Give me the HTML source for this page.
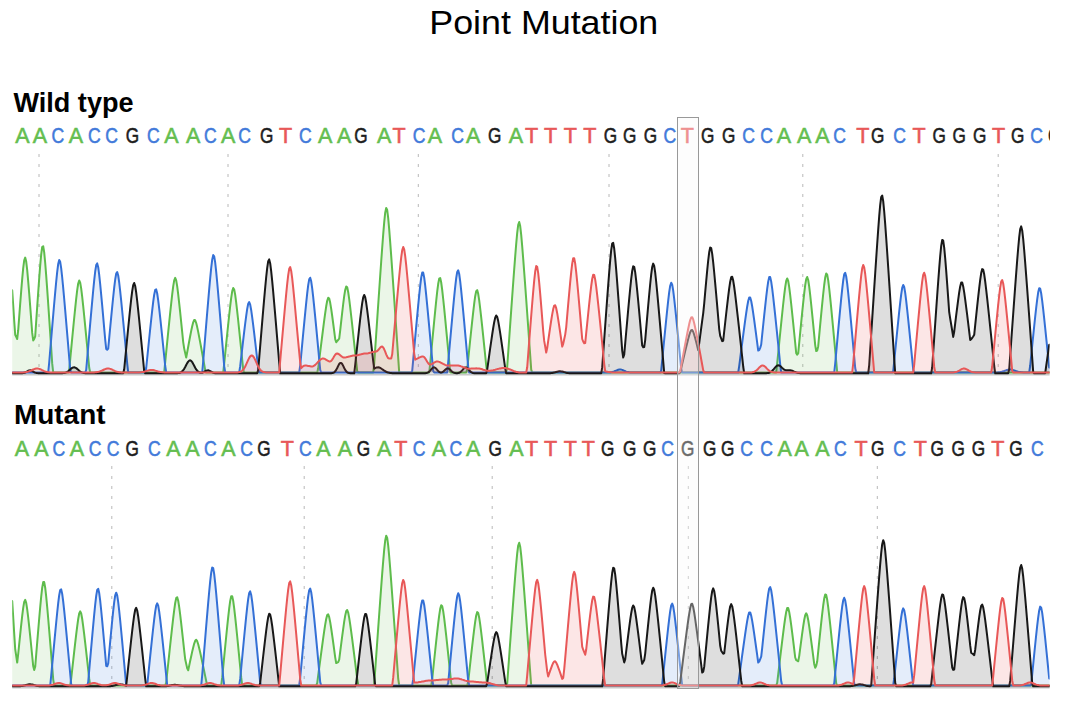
<!DOCTYPE html>
<html><head><meta charset="utf-8"><style>
html,body{margin:0;padding:0;background:#fff;}
body{width:1065px;height:701px;overflow:hidden;position:relative;font-family:"Liberation Sans",sans-serif;}
svg{position:absolute;left:0;top:0;}
</style></head><body>
<svg width="1065" height="701" viewBox="0 0 1065 701">
<text x="543.8" y="34.2" font-size="33.5" text-anchor="middle" textLength="229" lengthAdjust="spacingAndGlyphs" fill="#000" font-family="Liberation Sans">Point Mutation</text>
<text x="13.5" y="111.9" font-size="27" font-weight="bold" textLength="120" lengthAdjust="spacingAndGlyphs" fill="#000" font-family="Liberation Sans">Wild type</text>
<text x="14" y="423.6" font-size="27" font-weight="bold" textLength="91.5" lengthAdjust="spacingAndGlyphs" fill="#000" font-family="Liberation Sans">Mutant</text>
<g font-size="21.5" stroke-width="0.55" text-anchor="middle" font-family="Liberation Sans" clip-path="url(#cl2)">
<text x="22.3" y="142.8" fill="rgb(100,190,80)" stroke="rgb(100,190,80)">A</text>
<text x="40.0" y="142.8" fill="rgb(100,190,80)" stroke="rgb(100,190,80)">A</text>
<text transform="translate(57.8 142.8) scale(0.82 1)" fill="rgb(66,122,218)" stroke="rgb(66,122,218)">C</text>
<text x="76.0" y="142.8" fill="rgb(100,190,80)" stroke="rgb(100,190,80)">A</text>
<text transform="translate(94.3 142.8) scale(0.82 1)" fill="rgb(66,122,218)" stroke="rgb(66,122,218)">C</text>
<text transform="translate(111.6 142.8) scale(0.82 1)" fill="rgb(66,122,218)" stroke="rgb(66,122,218)">C</text>
<text transform="translate(132.4 142.8) scale(0.80 1)" fill="rgb(30,30,30)" stroke="rgb(30,30,30)">G</text>
<text transform="translate(153.4 142.8) scale(0.82 1)" fill="rgb(66,122,218)" stroke="rgb(66,122,218)">C</text>
<text x="171.4" y="142.8" fill="rgb(100,190,80)" stroke="rgb(100,190,80)">A</text>
<text x="193.2" y="142.8" fill="rgb(100,190,80)" stroke="rgb(100,190,80)">A</text>
<text transform="translate(210.4 142.8) scale(0.82 1)" fill="rgb(66,122,218)" stroke="rgb(66,122,218)">C</text>
<text x="228.2" y="142.8" fill="rgb(100,190,80)" stroke="rgb(100,190,80)">A</text>
<text transform="translate(244.7 142.8) scale(0.82 1)" fill="rgb(66,122,218)" stroke="rgb(66,122,218)">C</text>
<text transform="translate(266.6 142.8) scale(0.80 1)" fill="rgb(30,30,30)" stroke="rgb(30,30,30)">G</text>
<text x="285.5" y="142.8" fill="rgb(232,88,88)" stroke="rgb(232,88,88)">T</text>
<text transform="translate(305.3 142.8) scale(0.82 1)" fill="rgb(66,122,218)" stroke="rgb(66,122,218)">C</text>
<text x="325.2" y="142.8" fill="rgb(100,190,80)" stroke="rgb(100,190,80)">A</text>
<text x="344.1" y="142.8" fill="rgb(100,190,80)" stroke="rgb(100,190,80)">A</text>
<text transform="translate(360.9 142.8) scale(0.80 1)" fill="rgb(30,30,30)" stroke="rgb(30,30,30)">G</text>
<text x="384.1" y="142.8" fill="rgb(100,190,80)" stroke="rgb(100,190,80)">A</text>
<text x="399.1" y="142.8" fill="rgb(232,88,88)" stroke="rgb(232,88,88)">T</text>
<text transform="translate(419.0 142.8) scale(0.82 1)" fill="rgb(66,122,218)" stroke="rgb(66,122,218)">C</text>
<text x="435.0" y="142.8" fill="rgb(100,190,80)" stroke="rgb(100,190,80)">A</text>
<text transform="translate(457.7 142.8) scale(0.82 1)" fill="rgb(66,122,218)" stroke="rgb(66,122,218)">C</text>
<text x="473.2" y="142.8" fill="rgb(100,190,80)" stroke="rgb(100,190,80)">A</text>
<text transform="translate(494.6 142.8) scale(0.80 1)" fill="rgb(30,30,30)" stroke="rgb(30,30,30)">G</text>
<text x="515.8" y="142.8" fill="rgb(100,190,80)" stroke="rgb(100,190,80)">A</text>
<text x="531.6" y="142.8" fill="rgb(232,88,88)" stroke="rgb(232,88,88)">T</text>
<text x="550.5" y="142.8" fill="rgb(232,88,88)" stroke="rgb(232,88,88)">T</text>
<text x="570.3" y="142.8" fill="rgb(232,88,88)" stroke="rgb(232,88,88)">T</text>
<text x="589.7" y="142.8" fill="rgb(232,88,88)" stroke="rgb(232,88,88)">T</text>
<text transform="translate(610.4 142.8) scale(0.80 1)" fill="rgb(30,30,30)" stroke="rgb(30,30,30)">G</text>
<text transform="translate(629.7 142.8) scale(0.80 1)" fill="rgb(30,30,30)" stroke="rgb(30,30,30)">G</text>
<text transform="translate(650.4 142.8) scale(0.80 1)" fill="rgb(30,30,30)" stroke="rgb(30,30,30)">G</text>
<text transform="translate(669.8 142.8) scale(0.82 1)" fill="rgb(66,122,218)" stroke="rgb(66,122,218)">C</text>
<text x="687.3" y="142.8" fill="rgb(232,88,88)" stroke="rgb(232,88,88)">T</text>
<text transform="translate(707.7 142.8) scale(0.80 1)" fill="rgb(30,30,30)" stroke="rgb(30,30,30)">G</text>
<text transform="translate(728.6 142.8) scale(0.80 1)" fill="rgb(30,30,30)" stroke="rgb(30,30,30)">G</text>
<text transform="translate(748.5 142.8) scale(0.82 1)" fill="rgb(66,122,218)" stroke="rgb(66,122,218)">C</text>
<text transform="translate(766.6 142.8) scale(0.82 1)" fill="rgb(66,122,218)" stroke="rgb(66,122,218)">C</text>
<text x="783.9" y="142.8" fill="rgb(100,190,80)" stroke="rgb(100,190,80)">A</text>
<text x="804.2" y="142.8" fill="rgb(100,190,80)" stroke="rgb(100,190,80)">A</text>
<text x="822.3" y="142.8" fill="rgb(100,190,80)" stroke="rgb(100,190,80)">A</text>
<text transform="translate(839.6 142.8) scale(0.82 1)" fill="rgb(66,122,218)" stroke="rgb(66,122,218)">C</text>
<text x="862.8" y="142.8" fill="rgb(232,88,88)" stroke="rgb(232,88,88)">T</text>
<text transform="translate(877.8 142.8) scale(0.80 1)" fill="rgb(30,30,30)" stroke="rgb(30,30,30)">G</text>
<text transform="translate(899.7 142.8) scale(0.82 1)" fill="rgb(66,122,218)" stroke="rgb(66,122,218)">C</text>
<text x="919.1" y="142.8" fill="rgb(232,88,88)" stroke="rgb(232,88,88)">T</text>
<text transform="translate(939.2 142.8) scale(0.80 1)" fill="rgb(30,30,30)" stroke="rgb(30,30,30)">G</text>
<text transform="translate(959.1 142.8) scale(0.80 1)" fill="rgb(30,30,30)" stroke="rgb(30,30,30)">G</text>
<text transform="translate(979.8 142.8) scale(0.80 1)" fill="rgb(30,30,30)" stroke="rgb(30,30,30)">G</text>
<text x="998.6" y="142.8" fill="rgb(232,88,88)" stroke="rgb(232,88,88)">T</text>
<text transform="translate(1017.7 142.8) scale(0.80 1)" fill="rgb(30,30,30)" stroke="rgb(30,30,30)">G</text>
<text transform="translate(1036.6 142.8) scale(0.82 1)" fill="rgb(66,122,218)" stroke="rgb(66,122,218)">C</text>
<text transform="translate(1054.8 142.8) scale(0.80 1)" fill="rgb(30,30,30)" stroke="rgb(30,30,30)">G</text>
<text x="21.9" y="455.5" fill="rgb(100,190,80)" stroke="rgb(100,190,80)">A</text>
<text x="41.3" y="455.5" fill="rgb(100,190,80)" stroke="rgb(100,190,80)">A</text>
<text transform="translate(58.9 455.5) scale(0.82 1)" fill="rgb(66,122,218)" stroke="rgb(66,122,218)">C</text>
<text x="76.9" y="455.5" fill="rgb(100,190,80)" stroke="rgb(100,190,80)">A</text>
<text transform="translate(95.0 455.5) scale(0.82 1)" fill="rgb(66,122,218)" stroke="rgb(66,122,218)">C</text>
<text transform="translate(113.1 455.5) scale(0.82 1)" fill="rgb(66,122,218)" stroke="rgb(66,122,218)">C</text>
<text transform="translate(132.2 455.5) scale(0.80 1)" fill="rgb(30,30,30)" stroke="rgb(30,30,30)">G</text>
<text transform="translate(154.4 455.5) scale(0.82 1)" fill="rgb(66,122,218)" stroke="rgb(66,122,218)">C</text>
<text x="173.5" y="455.5" fill="rgb(100,190,80)" stroke="rgb(100,190,80)">A</text>
<text x="192.4" y="455.5" fill="rgb(100,190,80)" stroke="rgb(100,190,80)">A</text>
<text transform="translate(210.4 455.5) scale(0.82 1)" fill="rgb(66,122,218)" stroke="rgb(66,122,218)">C</text>
<text x="228.5" y="455.5" fill="rgb(100,190,80)" stroke="rgb(100,190,80)">A</text>
<text transform="translate(246.6 455.5) scale(0.82 1)" fill="rgb(66,122,218)" stroke="rgb(66,122,218)">C</text>
<text transform="translate(264.0 455.5) scale(0.80 1)" fill="rgb(30,30,30)" stroke="rgb(30,30,30)">G</text>
<text x="287.3" y="455.5" fill="rgb(232,88,88)" stroke="rgb(232,88,88)">T</text>
<text transform="translate(305.3 455.5) scale(0.82 1)" fill="rgb(66,122,218)" stroke="rgb(66,122,218)">C</text>
<text x="323.4" y="455.5" fill="rgb(100,190,80)" stroke="rgb(100,190,80)">A</text>
<text x="344.9" y="455.5" fill="rgb(100,190,80)" stroke="rgb(100,190,80)">A</text>
<text transform="translate(363.4 455.5) scale(0.80 1)" fill="rgb(30,30,30)" stroke="rgb(30,30,30)">G</text>
<text x="384.1" y="455.5" fill="rgb(100,190,80)" stroke="rgb(100,190,80)">A</text>
<text x="400.9" y="455.5" fill="rgb(232,88,88)" stroke="rgb(232,88,88)">T</text>
<text transform="translate(419.0 455.5) scale(0.82 1)" fill="rgb(66,122,218)" stroke="rgb(66,122,218)">C</text>
<text x="438.8" y="455.5" fill="rgb(100,190,80)" stroke="rgb(100,190,80)">A</text>
<text transform="translate(455.9 455.5) scale(0.82 1)" fill="rgb(66,122,218)" stroke="rgb(66,122,218)">C</text>
<text x="473.2" y="455.5" fill="rgb(100,190,80)" stroke="rgb(100,190,80)">A</text>
<text transform="translate(495.1 455.5) scale(0.80 1)" fill="rgb(30,30,30)" stroke="rgb(30,30,30)">G</text>
<text x="516.3" y="455.5" fill="rgb(100,190,80)" stroke="rgb(100,190,80)">A</text>
<text x="531.6" y="455.5" fill="rgb(232,88,88)" stroke="rgb(232,88,88)">T</text>
<text x="550.5" y="455.5" fill="rgb(232,88,88)" stroke="rgb(232,88,88)">T</text>
<text x="570.3" y="455.5" fill="rgb(232,88,88)" stroke="rgb(232,88,88)">T</text>
<text x="588.4" y="455.5" fill="rgb(232,88,88)" stroke="rgb(232,88,88)">T</text>
<text transform="translate(607.8 455.5) scale(0.80 1)" fill="rgb(30,30,30)" stroke="rgb(30,30,30)">G</text>
<text transform="translate(629.7 455.5) scale(0.80 1)" fill="rgb(30,30,30)" stroke="rgb(30,30,30)">G</text>
<text transform="translate(649.6 455.5) scale(0.80 1)" fill="rgb(30,30,30)" stroke="rgb(30,30,30)">G</text>
<text transform="translate(667.7 455.5) scale(0.82 1)" fill="rgb(66,122,218)" stroke="rgb(66,122,218)">C</text>
<text transform="translate(687.8 455.5) scale(0.80 1)" fill="rgb(30,30,30)" stroke="rgb(30,30,30)">G</text>
<text transform="translate(709.8 455.5) scale(0.80 1)" fill="rgb(30,30,30)" stroke="rgb(30,30,30)">G</text>
<text transform="translate(727.8 455.5) scale(0.80 1)" fill="rgb(30,30,30)" stroke="rgb(30,30,30)">G</text>
<text transform="translate(746.7 455.5) scale(0.82 1)" fill="rgb(66,122,218)" stroke="rgb(66,122,218)">C</text>
<text transform="translate(766.6 455.5) scale(0.82 1)" fill="rgb(66,122,218)" stroke="rgb(66,122,218)">C</text>
<text x="784.7" y="455.5" fill="rgb(100,190,80)" stroke="rgb(100,190,80)">A</text>
<text x="801.6" y="455.5" fill="rgb(100,190,80)" stroke="rgb(100,190,80)">A</text>
<text x="822.3" y="455.5" fill="rgb(100,190,80)" stroke="rgb(100,190,80)">A</text>
<text transform="translate(840.3 455.5) scale(0.82 1)" fill="rgb(66,122,218)" stroke="rgb(66,122,218)">C</text>
<text x="861.0" y="455.5" fill="rgb(232,88,88)" stroke="rgb(232,88,88)">T</text>
<text transform="translate(877.8 455.5) scale(0.80 1)" fill="rgb(30,30,30)" stroke="rgb(30,30,30)">G</text>
<text transform="translate(899.7 455.5) scale(0.82 1)" fill="rgb(66,122,218)" stroke="rgb(66,122,218)">C</text>
<text x="920.4" y="455.5" fill="rgb(232,88,88)" stroke="rgb(232,88,88)">T</text>
<text transform="translate(937.2 455.5) scale(0.80 1)" fill="rgb(30,30,30)" stroke="rgb(30,30,30)">G</text>
<text transform="translate(958.3 455.5) scale(0.80 1)" fill="rgb(30,30,30)" stroke="rgb(30,30,30)">G</text>
<text transform="translate(978.5 455.5) scale(0.80 1)" fill="rgb(30,30,30)" stroke="rgb(30,30,30)">G</text>
<text x="997.9" y="455.5" fill="rgb(232,88,88)" stroke="rgb(232,88,88)">T</text>
<text transform="translate(1015.9 455.5) scale(0.80 1)" fill="rgb(30,30,30)" stroke="rgb(30,30,30)">G</text>
<text transform="translate(1037.4 455.5) scale(0.82 1)" fill="rgb(66,122,218)" stroke="rgb(66,122,218)">C</text>
</g>
<defs><clipPath id="cl"><rect x="12.2" y="0" width="1037.4" height="701"/></clipPath><clipPath id="cl2"><rect x="0" y="0" width="1050" height="701"/></clipPath></defs>
<g clip-path="url(#cl)">
<line x1="39.0" y1="154.0" x2="39.0" y2="372.0" stroke="#b8b8b8" stroke-width="1" stroke-dasharray="3 7"/>
<line x1="228.0" y1="154.0" x2="228.0" y2="372.0" stroke="#b8b8b8" stroke-width="1" stroke-dasharray="3 7"/>
<line x1="418.3" y1="154.0" x2="418.3" y2="372.0" stroke="#b8b8b8" stroke-width="1" stroke-dasharray="3 7"/>
<line x1="609.0" y1="154.0" x2="609.0" y2="372.0" stroke="#b8b8b8" stroke-width="1" stroke-dasharray="3 7"/>
<line x1="802.8" y1="154.0" x2="802.8" y2="372.0" stroke="#b8b8b8" stroke-width="1" stroke-dasharray="3 7"/>
<line x1="998.2" y1="154.0" x2="998.2" y2="372.0" stroke="#b8b8b8" stroke-width="1" stroke-dasharray="3 7"/>
<line x1="111.8" y1="466.0" x2="111.8" y2="685.0" stroke="#b8b8b8" stroke-width="1" stroke-dasharray="3 7"/>
<line x1="304.2" y1="466.0" x2="304.2" y2="685.0" stroke="#b8b8b8" stroke-width="1" stroke-dasharray="3 7"/>
<line x1="492.2" y1="466.0" x2="492.2" y2="685.0" stroke="#b8b8b8" stroke-width="1" stroke-dasharray="3 7"/>
<line x1="688.3" y1="466.0" x2="688.3" y2="685.0" stroke="#b8b8b8" stroke-width="1" stroke-dasharray="3 7"/>
<line x1="877.3" y1="466.0" x2="877.3" y2="685.0" stroke="#b8b8b8" stroke-width="1" stroke-dasharray="3 7"/>
<line x1="12" y1="374.5" x2="1050" y2="374.5" stroke="#c8c8c8" stroke-width="2"/>
<line x1="12" y1="687.5" x2="1050" y2="687.5" stroke="#c8c8c8" stroke-width="2"/>
<path d="M9.2 372.5 L9.2 290.2 L12.2 290.2 13.2 305.3 L14.2 320.7 15.2 334.8 L16.2 336.8 17.2 339.0 L18.2 330.2 19.2 316.9 L20.2 303.7 21.2 291.0 L22.2 278.9 23.2 268.2 L24.2 260.3 25.2 257.6 L26.2 261.6 27.2 270.2 L28.2 281.3 29.2 293.5 L30.2 306.3 31.2 319.5 L32.2 332.9 33.2 340.4 L34.2 338.9 35.2 336.3 L36.2 321.4 37.2 306.7 L38.2 292.3 39.2 278.4 L40.2 265.4 41.2 254.3 L42.2 247.0 43.2 246.2 L44.2 252.4 45.2 263.0 L46.2 275.7 47.2 289.4 L48.2 303.8 49.2 318.4 L50.2 333.3 51.2 348.3 L52.2 363.4 53.2 372.5 L54.2 372.5 55.2 372.5 L56.2 372.5 57.2 372.5 L58.2 372.5 59.2 372.5 L60.2 372.5 61.2 372.5 L62.2 372.5 63.2 372.5 L64.2 372.5 65.2 372.5 L66.2 372.5 67.2 372.5 L68.2 372.5 69.2 369.9 L70.2 359.4 71.2 348.9 L72.2 338.4 73.2 328.1 L74.2 318.0 75.2 308.1 L76.2 298.7 77.2 290.2 L78.2 283.5 79.2 280.5 L80.2 282.6 81.2 288.7 L82.2 296.9 83.2 306.2 L84.2 316.0 85.2 326.1 L86.2 336.4 87.2 346.8 L88.2 357.3 89.2 367.8 L90.2 372.5 91.2 372.5 L92.2 372.5 93.2 372.5 L94.2 372.5 95.2 372.5 L96.2 372.5 97.2 372.5 L98.2 372.5 99.2 372.5 L100.2 372.5 101.2 372.5 L102.2 372.5 103.2 372.5 L104.2 372.5 105.2 372.5 L106.2 372.5 107.2 372.5 L108.2 372.5 109.2 372.5 L110.2 372.5 111.2 372.5 L112.2 372.5 113.2 372.5 L114.2 372.5 115.2 372.5 L116.2 372.5 117.2 372.5 L118.2 372.5 119.2 372.5 L120.2 372.5 121.2 372.5 L122.2 372.5 123.2 372.5 L124.2 372.5 125.2 372.5 L126.2 372.5 127.2 372.5 L128.2 372.5 129.2 372.5 L130.2 372.5 131.2 372.5 L132.2 372.5 133.2 372.5 L134.2 372.5 135.2 372.5 L136.2 372.5 137.2 372.5 L138.2 372.5 139.2 372.5 L140.2 372.5 141.2 372.5 L142.2 372.5 143.2 372.5 L144.2 372.5 145.2 372.5 L146.2 372.5 147.2 372.5 L148.2 372.5 149.2 372.5 L150.2 372.5 151.2 372.5 L152.2 372.5 153.2 372.5 L154.2 372.5 155.2 372.5 L156.2 372.5 157.2 372.5 L158.2 372.5 159.2 372.5 L160.2 372.5 161.2 372.5 L162.2 372.5 163.2 372.5 L164.2 372.3 165.2 362.2 L166.2 352.1 167.2 342.1 L168.2 332.2 169.2 322.4 L170.2 312.7 171.2 303.3 L172.2 294.4 173.2 286.4 L174.2 280.3 175.2 277.9 L176.2 280.3 177.2 286.4 L178.2 294.4 179.2 303.3 L180.2 312.7 181.2 322.4 L182.2 332.2 183.2 342.1 L184.2 348.6 185.2 353.1 L186.2 357.6 187.2 352.3 L188.2 346.8 189.2 341.3 L190.2 336.0 191.2 330.9 L192.2 326.2 193.2 322.3 L194.2 320.0 195.2 320.3 L196.2 323.0 197.2 327.1 L198.2 331.9 199.2 337.1 L200.2 342.4 201.2 347.8 L202.2 353.4 203.2 358.9 L204.2 364.5 205.2 370.1 L206.2 372.5 207.2 372.5 L208.2 372.5 209.2 372.5 L210.2 372.5 211.2 372.5 L212.2 372.5 213.2 372.5 L214.2 372.5 215.2 372.5 L216.2 372.5 217.2 372.5 L218.2 372.5 219.2 372.5 L220.2 372.5 221.2 372.5 L222.2 372.5 223.2 372.5 L224.2 363.6 225.2 353.6 L226.2 343.7 227.2 334.0 L228.2 324.3 229.2 315.0 L230.2 306.0 231.2 297.8 L232.2 291.3 233.2 288.0 L234.2 289.5 235.2 294.9 L236.2 302.6 237.2 311.3 L238.2 320.5 239.2 330.1 L240.2 339.8 241.2 349.7 L242.2 359.6 243.2 369.5 L244.2 372.5 245.2 372.5 L246.2 372.5 247.2 372.5 L248.2 372.5 249.2 372.5 L250.2 372.5 251.2 372.5 L252.2 372.5 253.2 372.5 L254.2 372.5 255.2 372.5 L256.2 372.5 257.2 372.5 L258.2 372.5 259.2 372.5 L260.2 372.5 261.2 372.5 L262.2 372.5 263.2 372.5 L264.2 372.5 265.2 372.5 L266.2 372.5 267.2 372.5 L268.2 372.5 269.2 372.5 L270.2 372.5 271.2 372.5 L272.2 372.5 273.2 372.5 L274.2 372.5 275.2 372.5 L276.2 372.5 277.2 372.5 L278.2 372.5 279.2 372.5 L280.2 372.5 281.2 372.5 L282.2 372.5 283.2 372.5 L284.2 372.5 285.2 372.5 L286.2 372.5 287.2 372.5 L288.2 372.5 289.2 372.5 L290.2 372.5 291.2 372.5 L292.2 372.5 293.2 372.5 L294.2 372.5 295.2 372.5 L296.2 372.5 297.2 372.5 L298.2 372.5 299.2 372.5 L300.2 372.5 301.2 372.5 L302.2 372.5 303.2 372.5 L304.2 372.5 305.2 372.5 L306.2 372.5 307.2 372.5 L308.2 372.5 309.2 372.5 L310.2 372.5 311.2 372.5 L312.2 372.5 313.2 372.5 L314.2 372.5 315.2 372.5 L316.2 372.5 317.2 372.5 L318.2 368.3 319.2 360.1 L320.2 352.0 321.2 343.9 L322.2 336.0 323.2 328.1 L324.2 320.4 325.2 313.1 L326.2 306.3 327.2 300.8 L328.2 297.8 329.2 298.6 L330.2 302.8 331.2 308.9 L332.2 316.0 333.2 323.5 L334.2 331.2 335.2 339.1 L336.2 342.3 337.2 341.0 L338.2 339.8 339.2 338.6 L340.2 330.4 341.2 321.3 L342.2 312.5 343.2 304.0 L344.2 296.2 345.2 289.9 L346.2 286.4 347.2 287.3 L348.2 292.2 349.2 299.2 L350.2 307.4 351.2 316.0 L352.2 324.9 353.2 334.1 L354.2 343.3 355.2 352.6 L356.2 362.0 357.2 371.4 L358.2 372.5 359.2 372.5 L360.2 372.5 361.2 372.5 L362.2 372.5 363.2 372.5 L364.2 372.5 365.2 372.5 L366.2 372.5 367.2 372.5 L368.2 372.5 369.2 372.5 L370.2 372.5 371.2 372.5 L372.2 372.5 373.2 372.5 L374.2 363.8 375.2 349.0 L376.2 334.2 377.2 319.4 L378.2 304.7 379.2 290.2 L380.2 275.7 381.2 261.5 L382.2 247.7 383.2 234.4 L384.2 222.4 385.2 212.7 L386.2 207.9 387.2 210.0 L388.2 218.1 389.2 229.4 L390.2 242.3 391.2 255.9 L392.2 270.0 393.2 284.4 L394.2 298.9 395.2 313.5 L396.2 328.3 397.2 343.0 L398.2 357.9 399.2 372.5 L400.2 372.5 401.2 372.5 L402.2 372.5 403.2 372.5 L404.2 372.5 405.2 372.5 L406.2 372.5 407.2 372.5 L408.2 372.5 409.2 372.5 L410.2 372.5 411.2 372.5 L412.2 372.5 413.2 372.5 L414.2 372.5 415.2 372.5 L416.2 372.5 417.2 372.5 L418.2 372.5 419.2 372.5 L420.2 372.5 421.2 372.5 L422.2 372.5 423.2 372.5 L424.2 372.5 425.2 372.5 L426.2 372.5 427.2 372.5 L428.2 372.5 429.2 372.5 L430.2 363.4 431.2 352.7 L432.2 342.0 433.2 331.4 L434.2 321.0 435.2 310.8 L436.2 300.9 437.2 291.7 L438.2 283.8 439.2 278.6 L440.2 278.0 441.2 282.5 L442.2 290.0 443.2 299.0 L444.2 308.7 445.2 318.9 L446.2 329.3 447.2 339.9 L448.2 350.5 449.2 361.3 L450.2 372.0 451.2 372.5 L452.2 372.5 453.2 372.5 L454.2 372.5 455.2 372.5 L456.2 372.5 457.2 372.5 L458.2 372.5 459.2 372.5 L460.2 372.5 461.2 372.5 L462.2 372.5 463.2 372.5 L464.2 372.5 465.2 372.5 L466.2 372.5 467.2 369.3 L468.2 359.5 469.2 349.7 L470.2 340.0 471.2 330.5 L472.2 321.1 473.2 312.1 L474.2 303.6 475.2 296.2 L476.2 291.1 477.2 290.1 L478.2 293.8 479.2 300.4 L480.2 308.6 481.2 317.4 L482.2 326.7 483.2 336.2 L484.2 345.8 485.2 355.5 L486.2 365.3 487.2 372.5 L488.2 372.5 489.2 372.5 L490.2 372.5 491.2 372.5 L492.2 372.5 493.2 372.5 L494.2 372.5 495.2 372.5 L496.2 372.5 497.2 372.5 L498.2 372.5 499.2 372.5 L500.2 372.5 501.2 372.5 L502.2 372.5 503.2 372.5 L504.2 372.5 505.2 372.5 L506.2 372.5 507.2 366.8 L508.2 352.6 509.2 338.5 L510.2 324.4 511.2 310.4 L512.2 296.5 513.2 282.8 L514.2 269.3 515.2 256.3 L516.2 243.9 517.2 232.9 L518.2 224.8 519.2 222.0 L520.2 226.1 521.2 234.9 L522.2 246.3 523.2 258.8 L524.2 272.0 525.2 285.5 L526.2 299.3 527.2 313.2 L528.2 327.2 529.2 341.3 L530.2 355.4 531.2 369.6 L532.2 372.5 533.2 372.5 L534.2 372.5 535.2 372.5 L536.2 372.5 537.2 372.5 L538.2 372.5 539.2 372.5 L540.2 372.5 541.2 372.5 L542.2 372.5 543.2 372.5 L544.2 372.5 545.2 372.5 L546.2 372.5 547.2 372.5 L548.2 372.5 549.2 372.5 L550.2 372.5 551.2 372.5 L552.2 372.5 553.2 372.5 L554.2 372.5 555.2 372.5 L556.2 372.5 557.2 372.5 L558.2 372.5 559.2 372.5 L560.2 372.5 561.2 372.5 L562.2 372.5 563.2 372.5 L564.2 372.5 565.2 372.5 L566.2 372.5 567.2 372.5 L568.2 372.5 569.2 372.5 L570.2 372.5 571.2 372.5 L572.2 372.5 573.2 372.5 L574.2 372.5 575.2 372.5 L576.2 372.5 577.2 372.5 L578.2 372.5 579.2 372.5 L580.2 372.5 581.2 372.5 L582.2 372.5 583.2 372.5 L584.2 372.5 585.2 372.5 L586.2 372.5 587.2 372.5 L588.2 372.5 589.2 372.5 L590.2 372.5 591.2 372.5 L592.2 372.5 593.2 372.5 L594.2 372.5 595.2 372.5 L596.2 372.5 597.2 372.5 L598.2 372.5 599.2 372.5 L600.2 372.5 601.2 372.5 L602.2 372.5 603.2 372.5 L604.2 372.5 605.2 372.5 L606.2 372.5 607.2 372.5 L608.2 372.5 609.2 372.5 L610.2 372.5 611.2 372.5 L612.2 372.5 613.2 372.5 L614.2 372.5 615.2 372.5 L616.2 372.5 617.2 372.5 L618.2 372.5 619.2 372.5 L620.2 372.5 621.2 372.5 L622.2 372.5 623.2 372.5 L624.2 372.5 625.2 372.5 L626.2 372.5 627.2 372.5 L628.2 372.5 629.2 372.5 L630.2 372.5 631.2 372.5 L632.2 372.5 633.2 372.5 L634.2 372.5 635.2 372.5 L636.2 372.5 637.2 372.5 L638.2 372.5 639.2 372.5 L640.2 372.5 641.2 372.5 L642.2 372.5 643.2 372.5 L644.2 372.5 645.2 372.5 L646.2 372.5 647.2 372.5 L648.2 372.5 649.2 372.5 L650.2 372.5 651.2 372.5 L652.2 372.5 653.2 372.5 L654.2 372.5 655.2 372.5 L656.2 372.5 657.2 372.5 L658.2 372.5 659.2 372.5 L660.2 372.5 661.2 372.5 L662.2 372.5 663.2 372.5 L664.2 372.5 665.2 372.5 L666.2 372.5 667.2 372.5 L668.2 372.5 669.2 372.5 L670.2 372.5 671.2 372.5 L672.2 372.5 673.2 372.5 L674.2 372.5 675.2 372.5 L676.2 372.5 677.2 372.5 L678.2 372.5 679.2 372.5 L680.2 372.5 681.2 372.5 L682.2 372.5 683.2 372.5 L684.2 372.5 685.2 372.5 L686.2 372.5 687.2 372.5 L688.2 372.5 689.2 372.5 L690.2 372.5 691.2 372.5 L692.2 372.5 693.2 372.5 L694.2 372.5 695.2 372.5 L696.2 372.5 697.2 372.5 L698.2 372.5 699.2 372.5 L700.2 372.5 701.2 372.5 L702.2 372.5 703.2 372.5 L704.2 372.5 705.2 372.5 L706.2 372.5 707.2 372.5 L708.2 372.5 709.2 372.5 L710.2 372.5 711.2 372.5 L712.2 372.5 713.2 372.5 L714.2 372.5 715.2 372.5 L716.2 372.5 717.2 372.5 L718.2 372.5 719.2 372.5 L720.2 372.5 721.2 372.5 L722.2 372.5 723.2 372.5 L724.2 372.5 725.2 372.5 L726.2 372.5 727.2 372.5 L728.2 372.5 729.2 372.5 L730.2 372.5 731.2 372.5 L732.2 372.5 733.2 372.5 L734.2 372.5 735.2 372.5 L736.2 372.5 737.2 372.5 L738.2 372.5 739.2 372.5 L740.2 372.5 741.2 372.5 L742.2 372.5 743.2 372.5 L744.2 372.5 745.2 372.5 L746.2 372.5 747.2 372.5 L748.2 372.5 749.2 372.5 L750.2 372.5 751.2 372.5 L752.2 372.5 753.2 372.5 L754.2 372.5 755.2 372.5 L756.2 372.5 757.2 372.5 L758.2 372.5 759.2 372.5 L760.2 372.5 761.2 372.5 L762.2 372.5 763.2 372.5 L764.2 372.5 765.2 372.5 L766.2 372.5 767.2 372.5 L768.2 372.5 769.2 372.5 L770.2 372.5 771.2 372.5 L772.2 372.5 773.2 372.5 L774.2 372.5 775.2 372.5 L776.2 372.5 777.2 363.2 L778.2 353.1 779.2 343.0 L780.2 333.0 781.2 323.2 L782.2 313.5 783.2 304.0 L784.2 295.1 785.2 287.1 L786.2 280.9 787.2 278.5 L788.2 280.9 789.2 287.1 L790.2 295.1 791.2 304.0 L792.2 313.5 793.2 323.2 L794.2 333.0 795.2 343.0 L796.2 353.1 797.2 354.6 L798.2 353.4 799.2 343.0 L800.2 332.6 801.2 322.4 L802.2 312.3 803.2 302.6 L804.2 293.3 805.2 285.1 L806.2 279.1 807.2 277.0 L808.2 280.0 809.2 286.7 L810.2 295.1 811.2 304.5 L812.2 314.3 813.2 324.4 L814.2 334.7 815.2 345.1 L816.2 351.0 817.2 350.6 L818.2 346.2 819.2 335.4 L820.2 324.7 821.2 314.1 L822.2 303.9 823.2 294.0 L824.2 285.0 825.2 277.6 L826.2 273.5 827.2 274.6 L828.2 280.3 829.2 288.5 L830.2 297.9 831.2 307.9 L832.2 318.3 833.2 328.9 L834.2 339.7 835.2 350.5 L836.2 361.4 837.2 372.3 L838.2 372.5 839.2 372.5 L840.2 372.5 841.2 372.5 L842.2 372.5 843.2 372.5 L844.2 372.5 845.2 372.5 L846.2 372.5 847.2 372.5 L848.2 372.5 849.2 372.5 L850.2 372.5 851.2 372.5 L852.2 372.5 853.2 372.5 L854.2 372.5 855.2 372.5 L856.2 372.5 857.2 372.5 L858.2 372.5 859.2 372.5 L860.2 372.5 861.2 372.5 L862.2 372.5 863.2 372.5 L864.2 372.5 865.2 372.5 L866.2 372.5 867.2 372.5 L868.2 372.5 869.2 372.5 L870.2 372.5 871.2 372.5 L872.2 372.5 873.2 372.5 L874.2 372.5 875.2 372.5 L876.2 372.5 877.2 372.5 L878.2 372.5 879.2 372.5 L880.2 372.5 881.2 372.5 L882.2 372.5 883.2 372.5 L884.2 372.5 885.2 372.5 L886.2 372.5 887.2 372.5 L888.2 372.5 889.2 372.5 L890.2 372.5 891.2 372.5 L892.2 372.5 893.2 372.5 L894.2 372.5 895.2 372.5 L896.2 372.5 897.2 372.5 L898.2 372.5 899.2 372.5 L900.2 372.5 901.2 372.5 L902.2 372.5 903.2 372.5 L904.2 372.5 905.2 372.5 L906.2 372.5 907.2 372.5 L908.2 372.5 909.2 372.5 L910.2 372.5 911.2 372.5 L912.2 372.5 913.2 372.5 L914.2 372.5 915.2 372.5 L916.2 372.5 917.2 372.5 L918.2 372.5 919.2 372.5 L920.2 372.5 921.2 372.5 L922.2 372.5 923.2 372.5 L924.2 372.5 925.2 372.5 L926.2 372.5 927.2 372.5 L928.2 372.5 929.2 372.5 L930.2 372.5 931.2 372.5 L932.2 372.5 933.2 372.5 L934.2 372.5 935.2 372.5 L936.2 372.5 937.2 372.5 L938.2 372.5 939.2 372.5 L940.2 372.5 941.2 372.5 L942.2 372.5 943.2 372.5 L944.2 372.5 945.2 372.5 L946.2 372.5 947.2 372.5 L948.2 372.5 949.2 372.5 L950.2 372.5 951.2 372.5 L952.2 372.5 953.2 372.5 L954.2 372.5 955.2 372.5 L956.2 372.5 957.2 372.5 L958.2 372.5 959.2 372.5 L960.2 372.5 961.2 372.5 L962.2 372.5 963.2 372.5 L964.2 372.5 965.2 372.5 L966.2 372.5 967.2 372.5 L968.2 372.5 969.2 372.5 L970.2 372.5 971.2 372.5 L972.2 372.5 973.2 372.5 L974.2 372.5 975.2 372.5 L976.2 372.5 977.2 372.5 L978.2 372.5 979.2 372.5 L980.2 372.5 981.2 372.5 L982.2 372.5 983.2 372.5 L984.2 372.5 985.2 372.5 L986.2 372.5 987.2 372.5 L988.2 372.5 989.2 372.5 L990.2 372.5 991.2 372.5 L992.2 372.5 993.2 372.5 L994.2 372.5 995.2 372.5 L996.2 372.5 997.2 372.5 L998.2 372.5 999.2 372.5 L1000.2 372.5 1001.2 372.5 L1002.2 372.5 1003.2 372.5 L1004.2 372.5 1005.2 372.5 L1006.2 372.5 1007.2 372.5 L1008.2 372.5 1009.2 372.5 L1010.2 372.5 1011.2 372.5 L1012.2 372.5 1013.2 372.5 L1014.2 372.5 1015.2 372.5 L1016.2 372.5 1017.2 372.5 L1018.2 372.5 1019.2 372.5 L1020.2 372.5 1021.2 372.5 L1022.2 372.5 1023.2 372.5 L1024.2 372.5 1025.2 372.5 L1026.2 372.5 1027.2 372.5 L1028.2 372.5 1029.2 372.5 L1030.2 372.5 1031.2 372.5 L1032.2 372.5 1033.2 372.5 L1034.2 372.5 1035.2 372.5 L1036.2 372.5 1037.2 372.5 L1038.2 372.5 1039.2 372.5 L1040.2 372.5 1041.2 372.5 L1042.2 372.5 1043.2 372.5 L1044.2 372.5 1045.2 372.5 L1046.2 372.5 1047.2 372.5 L1048.2 372.5 1049.2 372.5 L1052.6 372.5 L1052.6 372.5" fill="rgba(110,190,90,0.14)" stroke="rgb(94,188,76)" stroke-width="2" stroke-linejoin="round"/>
<path d="M9.2 372.5 L9.2 372.5 L12.2 372.5 13.2 372.5 L14.2 372.5 15.2 372.5 L16.2 372.5 17.2 372.5 L18.2 372.5 19.2 372.5 L20.2 372.5 21.2 372.5 L22.2 372.5 23.2 372.5 L24.2 372.5 25.2 372.5 L26.2 372.5 27.2 372.5 L28.2 372.5 29.2 372.5 L30.2 372.5 31.2 372.5 L32.2 372.5 33.2 372.5 L34.2 372.5 35.2 372.5 L36.2 372.5 37.2 372.5 L38.2 372.5 39.2 372.5 L40.2 372.5 41.2 372.5 L42.2 372.5 43.2 372.5 L44.2 372.5 45.2 372.5 L46.2 372.5 47.2 372.5 L48.2 372.5 49.2 362.5 L50.2 350.5 51.2 338.6 L52.2 326.8 53.2 315.1 L54.2 303.5 55.2 292.3 L56.2 281.6 57.2 271.8 L58.2 264.0 59.2 260.0 L60.2 261.8 61.2 268.3 L62.2 277.5 63.2 287.9 L64.2 299.0 65.2 310.4 L66.2 322.1 67.2 333.8 L68.2 345.7 69.2 357.7 L70.2 369.7 71.2 372.5 L72.2 372.5 73.2 372.5 L74.2 372.5 75.2 372.5 L76.2 372.5 77.2 372.5 L78.2 372.5 79.2 372.5 L80.2 372.5 81.2 372.5 L82.2 372.5 83.2 372.5 L84.2 372.5 85.2 372.5 L86.2 369.9 87.2 358.3 L88.2 346.7 89.2 335.1 L90.2 323.7 91.2 312.4 L92.2 301.3 93.2 290.5 L94.2 280.4 95.2 271.5 L96.2 265.1 97.2 263.4 L98.2 267.2 99.2 274.9 L100.2 284.4 101.2 294.8 L102.2 305.7 103.2 316.9 L104.2 328.3 105.2 339.7 L106.2 348.9 107.2 349.8 L108.2 348.7 109.2 338.1 L110.2 327.5 111.2 317.1 L112.2 306.9 113.2 297.0 L114.2 287.7 115.2 279.5 L116.2 273.6 117.2 272.0 L118.2 275.5 119.2 282.5 L120.2 291.3 121.2 300.9 L122.2 311.0 123.2 321.3 L124.2 331.7 125.2 342.3 L126.2 353.0 127.2 363.7 L128.2 372.5 129.2 372.5 L130.2 372.5 131.2 372.5 L132.2 372.5 133.2 372.5 L134.2 372.5 135.2 372.5 L136.2 372.5 137.2 372.5 L138.2 372.5 139.2 372.5 L140.2 372.5 141.2 372.5 L142.2 372.5 143.2 372.5 L144.2 372.5 145.2 372.5 L146.2 368.0 147.2 358.1 L148.2 348.3 149.2 338.5 L150.2 328.9 151.2 319.5 L152.2 310.4 153.2 301.9 L154.2 294.7 155.2 289.9 L156.2 289.4 157.2 293.5 L158.2 300.4 159.2 308.7 L160.2 317.7 161.2 327.0 L162.2 336.6 163.2 346.3 L164.2 356.1 165.2 366.0 L166.2 372.5 167.2 372.5 L168.2 372.5 169.2 372.5 L170.2 372.5 171.2 372.5 L172.2 372.5 173.2 372.5 L174.2 372.5 175.2 372.5 L176.2 372.5 177.2 372.5 L178.2 372.5 179.2 372.5 L180.2 372.5 181.2 372.5 L182.2 372.5 183.2 372.5 L184.2 372.5 185.2 372.5 L186.2 372.5 187.2 372.5 L188.2 372.5 189.2 372.5 L190.2 372.5 191.2 372.5 L192.2 372.5 193.2 372.5 L194.2 372.5 195.2 372.5 L196.2 372.5 197.2 372.5 L198.2 372.5 199.2 372.5 L200.2 372.5 201.2 372.5 L202.2 372.5 203.2 361.3 L204.2 349.0 205.2 336.8 L206.2 324.6 207.2 312.6 L208.2 300.8 209.2 289.2 L210.2 278.1 211.2 267.9 L212.2 259.6 213.2 255.1 L214.2 256.3 215.2 262.6 L216.2 271.9 217.2 282.5 L218.2 293.8 219.2 305.5 L220.2 317.4 221.2 329.5 L222.2 341.7 223.2 353.9 L224.2 366.2 225.2 372.5 L226.2 372.5 227.2 372.5 L228.2 372.5 229.2 372.5 L230.2 372.5 231.2 372.5 L232.2 372.5 233.2 372.5 L234.2 372.5 235.2 372.5 L236.2 372.5 237.2 372.5 L238.2 372.5 239.2 372.5 L240.2 366.2 241.2 357.4 L242.2 348.8 243.2 340.2 L244.2 331.7 245.2 323.5 L246.2 315.8 247.2 308.9 L248.2 303.8 249.2 302.1 L250.2 304.6 251.2 310.2 L252.2 317.3 253.2 325.2 L254.2 333.4 255.2 341.9 L256.2 350.5 257.2 359.2 L258.2 367.9 259.2 372.5 L260.2 372.5 261.2 372.5 L262.2 372.5 263.2 372.5 L264.2 372.5 265.2 372.5 L266.2 372.5 267.2 372.5 L268.2 372.5 269.2 372.5 L270.2 372.5 271.2 372.5 L272.2 372.5 273.2 372.5 L274.2 372.5 275.2 372.5 L276.2 372.5 277.2 372.5 L278.2 372.5 279.2 372.5 L280.2 372.5 281.2 372.5 L282.2 372.5 283.2 372.5 L284.2 372.5 285.2 372.5 L286.2 372.5 287.2 372.5 L288.2 372.5 289.2 372.5 L290.2 372.5 291.2 372.5 L292.2 372.5 293.2 372.5 L294.2 372.5 295.2 372.5 L296.2 372.5 297.2 372.5 L298.2 372.5 299.2 372.5 L300.2 365.6 301.2 354.8 L302.2 344.1 303.2 333.5 L304.2 323.1 305.2 312.8 L306.2 302.8 307.2 293.4 L308.2 285.2 309.2 279.3 L310.2 277.7 311.2 281.3 L312.2 288.3 313.2 297.1 L314.2 306.8 315.2 316.9 L316.2 327.2 317.2 337.8 L318.2 348.4 319.2 359.1 L320.2 369.9 321.2 372.5 L322.2 372.5 323.2 372.5 L324.2 372.5 325.2 372.5 L326.2 372.5 327.2 372.5 L328.2 372.5 329.2 372.5 L330.2 372.5 331.2 372.5 L332.2 372.5 333.2 372.5 L334.2 372.5 335.2 372.5 L336.2 372.5 337.2 372.5 L338.2 372.5 339.2 372.5 L340.2 372.5 341.2 372.5 L342.2 372.5 343.2 372.5 L344.2 372.5 345.2 372.5 L346.2 372.5 347.2 372.5 L348.2 372.5 349.2 372.5 L350.2 372.5 351.2 372.5 L352.2 372.5 353.2 372.5 L354.2 372.5 355.2 372.5 L356.2 372.5 357.2 372.5 L358.2 372.5 359.2 372.5 L360.2 372.5 361.2 372.5 L362.2 372.5 363.2 372.5 L364.2 372.5 365.2 372.5 L366.2 372.5 367.2 372.5 L368.2 372.5 369.2 372.5 L370.2 372.5 371.2 372.5 L372.2 372.5 373.2 372.5 L374.2 372.5 375.2 372.5 L376.2 372.5 377.2 372.5 L378.2 372.5 379.2 372.5 L380.2 372.5 381.2 372.5 L382.2 372.5 383.2 372.5 L384.2 372.5 385.2 372.5 L386.2 372.5 387.2 372.5 L388.2 372.5 389.2 372.5 L390.2 372.5 391.2 372.5 L392.2 372.5 393.2 372.5 L394.2 372.5 395.2 372.5 L396.2 372.5 397.2 372.5 L398.2 372.5 399.2 372.5 L400.2 372.5 401.2 372.5 L402.2 372.5 403.2 372.5 L404.2 372.5 405.2 372.5 L406.2 372.5 407.2 372.5 L408.2 372.5 409.2 372.5 L410.2 372.5 411.2 372.5 L412.2 371.0 413.2 359.8 L414.2 348.7 415.2 337.6 L416.2 326.7 417.2 315.8 L418.2 305.3 419.2 295.1 L420.2 285.6 421.2 277.6 L422.2 272.6 423.2 272.6 L424.2 277.6 425.2 285.6 L426.2 295.1 427.2 305.3 L428.2 315.8 429.2 326.7 L430.2 337.6 431.2 348.7 L432.2 359.8 433.2 371.0 L434.2 372.5 435.2 372.5 L436.2 372.5 437.2 372.5 L438.2 372.5 439.2 372.5 L440.2 372.5 441.2 372.5 L442.2 372.5 443.2 372.5 L444.2 372.5 445.2 372.5 L446.2 372.5 447.2 372.5 L448.2 362.4 449.2 351.2 L450.2 340.0 451.2 328.8 L452.2 317.9 453.2 307.1 L454.2 296.6 455.2 286.8 L456.2 278.2 457.2 272.0 L458.2 270.3 459.2 274.0 L460.2 281.4 461.2 290.6 L462.2 300.8 463.2 311.4 L464.2 322.2 465.2 333.3 L466.2 344.4 467.2 355.7 L468.2 366.9 469.2 372.5 L470.2 372.5 471.2 372.5 L472.2 372.5 473.2 372.5 L474.2 372.5 475.2 372.5 L476.2 372.5 477.2 372.5 L478.2 372.5 479.2 372.5 L480.2 372.5 481.2 372.5 L482.2 372.5 483.2 372.5 L484.2 372.5 485.2 372.5 L486.2 372.5 487.2 372.5 L488.2 372.5 489.2 372.5 L490.2 372.5 491.2 372.5 L492.2 372.5 493.2 372.5 L494.2 372.5 495.2 372.5 L496.2 372.5 497.2 372.5 L498.2 372.5 499.2 372.5 L500.2 372.5 501.2 372.5 L502.2 372.5 503.2 372.5 L504.2 372.5 505.2 372.5 L506.2 372.5 507.2 372.5 L508.2 372.5 509.2 372.5 L510.2 372.5 511.2 372.5 L512.2 372.5 513.2 372.5 L514.2 372.5 515.2 372.5 L516.2 372.5 517.2 372.5 L518.2 372.5 519.2 372.5 L520.2 372.5 521.2 372.5 L522.2 372.5 523.2 372.5 L524.2 372.5 525.2 372.5 L526.2 372.5 527.2 372.5 L528.2 372.5 529.2 372.5 L530.2 372.5 531.2 372.5 L532.2 372.5 533.2 372.5 L534.2 372.5 535.2 372.5 L536.2 372.5 537.2 372.5 L538.2 372.5 539.2 372.5 L540.2 372.5 541.2 372.5 L542.2 372.5 543.2 372.5 L544.2 372.5 545.2 372.5 L546.2 372.5 547.2 372.5 L548.2 372.5 549.2 372.5 L550.2 372.5 551.2 372.5 L552.2 372.5 553.2 372.5 L554.2 372.5 555.2 372.5 L556.2 372.5 557.2 372.5 L558.2 372.5 559.2 372.5 L560.2 372.5 561.2 372.5 L562.2 372.5 563.2 372.5 L564.2 372.5 565.2 372.5 L566.2 372.5 567.2 372.5 L568.2 372.5 569.2 372.5 L570.2 372.5 571.2 372.5 L572.2 372.5 573.2 372.5 L574.2 372.5 575.2 372.5 L576.2 372.5 577.2 372.5 L578.2 372.5 579.2 372.5 L580.2 372.5 581.2 372.5 L582.2 372.5 583.2 372.5 L584.2 372.5 585.2 372.5 L586.2 372.5 587.2 372.5 L588.2 372.5 589.2 372.5 L590.2 372.5 591.2 372.5 L592.2 372.5 593.2 372.5 L594.2 372.5 595.2 372.5 L596.2 372.5 597.2 372.5 L598.2 372.5 599.2 372.5 L600.2 372.5 601.2 372.5 L602.2 372.5 603.2 372.5 L604.2 372.5 605.2 372.5 L606.2 372.5 607.2 372.5 L608.2 372.5 609.2 372.4 L610.2 372.4 611.2 372.2 L612.2 372.1 613.2 371.8 L614.2 371.5 615.2 371.0 L616.2 370.6 617.2 370.2 L618.2 369.8 619.2 369.6 L620.2 369.5 621.2 369.6 L622.2 369.9 623.2 370.3 L624.2 370.8 625.2 371.2 L626.2 371.6 627.2 371.9 L628.2 372.1 629.2 372.3 L630.2 372.4 631.2 372.4 L632.2 372.5 633.2 372.5 L634.2 372.5 635.2 372.5 L636.2 372.5 637.2 372.5 L638.2 372.5 639.2 372.5 L640.2 372.5 641.2 372.5 L642.2 372.5 643.2 372.5 L644.2 372.5 645.2 372.5 L646.2 372.5 647.2 372.5 L648.2 372.5 649.2 372.5 L650.2 372.5 651.2 372.5 L652.2 372.5 653.2 372.5 L654.2 372.5 655.2 372.5 L656.2 372.5 657.2 372.5 L658.2 372.5 659.2 372.5 L660.2 372.5 661.2 370.7 L662.2 360.3 663.2 350.0 L664.2 339.7 665.2 329.6 L666.2 319.6 667.2 309.9 L668.2 300.6 669.2 292.2 L670.2 285.7 671.2 282.7 L672.2 284.7 673.2 290.7 L674.2 298.9 675.2 308.0 L676.2 317.6 677.2 327.6 L678.2 337.7 679.2 347.9 L680.2 358.3 681.2 368.6 L682.2 372.5 683.2 372.5 L684.2 372.5 685.2 372.5 L686.2 372.5 687.2 372.5 L688.2 372.5 689.2 372.5 L690.2 372.5 691.2 372.5 L692.2 372.5 693.2 372.5 L694.2 372.5 695.2 372.5 L696.2 372.5 697.2 372.5 L698.2 372.5 699.2 372.5 L700.2 372.5 701.2 372.5 L702.2 372.5 703.2 372.5 L704.2 372.5 705.2 372.5 L706.2 372.5 707.2 372.5 L708.2 372.5 709.2 372.5 L710.2 372.5 711.2 372.5 L712.2 372.5 713.2 372.5 L714.2 372.5 715.2 372.5 L716.2 372.5 717.2 372.5 L718.2 372.5 719.2 372.5 L720.2 372.5 721.2 372.5 L722.2 372.5 723.2 372.5 L724.2 372.5 725.2 372.5 L726.2 372.5 727.2 372.5 L728.2 372.5 729.2 372.5 L730.2 372.5 731.2 372.5 L732.2 372.5 733.2 372.5 L734.2 372.5 735.2 372.5 L736.2 372.5 737.2 372.5 L738.2 372.5 739.2 366.1 L740.2 358.3 741.2 350.5 L742.2 342.8 743.2 335.2 L744.2 327.6 745.2 320.2 L746.2 313.1 747.2 306.5 L748.2 301.0 749.2 297.5 L750.2 297.5 751.2 301.0 L752.2 306.5 753.2 313.1 L754.2 320.2 755.2 327.6 L756.2 335.2 757.2 342.8 L758.2 350.5 759.2 350.1 L760.2 347.9 761.2 344.5 L762.2 334.7 763.2 325.0 L764.2 315.4 765.2 306.1 L766.2 297.0 767.2 288.6 L768.2 281.6 769.2 277.1 L770.2 277.1 771.2 281.6 L772.2 288.6 773.2 297.0 L774.2 306.1 775.2 315.4 L776.2 325.0 777.2 334.7 L778.2 344.5 779.2 354.4 L780.2 364.3 781.2 372.5 L782.2 372.5 783.2 372.5 L784.2 372.5 785.2 372.5 L786.2 372.5 787.2 372.5 L788.2 372.5 789.2 372.5 L790.2 372.5 791.2 372.5 L792.2 372.5 793.2 372.5 L794.2 372.5 795.2 372.5 L796.2 372.5 797.2 372.5 L798.2 372.5 799.2 372.5 L800.2 372.5 801.2 372.5 L802.2 372.5 803.2 372.5 L804.2 372.5 805.2 372.5 L806.2 372.5 807.2 372.5 L808.2 372.5 809.2 372.5 L810.2 372.5 811.2 372.5 L812.2 372.5 813.2 372.5 L814.2 372.5 815.2 372.5 L816.2 372.5 817.2 372.5 L818.2 372.5 819.2 372.5 L820.2 372.5 821.2 372.5 L822.2 372.5 823.2 372.5 L824.2 372.5 825.2 372.5 L826.2 372.5 827.2 372.5 L828.2 372.5 829.2 372.5 L830.2 372.5 831.2 372.5 L832.2 372.5 833.2 372.5 L834.2 372.5 835.2 363.5 L836.2 352.4 837.2 341.4 L838.2 330.4 839.2 319.6 L840.2 309.0 841.2 298.7 L842.2 289.1 843.2 280.5 L844.2 274.4 845.2 272.8 L846.2 276.5 847.2 283.7 L848.2 292.8 849.2 302.8 L850.2 313.2 851.2 323.9 L852.2 334.8 853.2 345.8 L854.2 356.9 855.2 368.0 L856.2 372.5 857.2 372.5 L858.2 372.5 859.2 372.5 L860.2 372.5 861.2 372.5 L862.2 372.5 863.2 372.5 L864.2 372.5 865.2 372.5 L866.2 372.5 867.2 372.5 L868.2 372.5 869.2 372.5 L870.2 372.5 871.2 372.5 L872.2 372.5 873.2 372.5 L874.2 372.5 875.2 372.5 L876.2 372.5 877.2 372.5 L878.2 372.5 879.2 372.5 L880.2 372.5 881.2 372.5 L882.2 372.5 883.2 372.5 L884.2 372.5 885.2 372.5 L886.2 372.5 887.2 372.5 L888.2 372.5 889.2 372.5 L890.2 372.5 891.2 372.5 L892.2 372.5 893.2 371.5 L894.2 361.3 895.2 351.2 L896.2 341.1 897.2 331.1 L898.2 321.3 899.2 311.7 L900.2 302.6 901.2 294.4 L902.2 287.9 903.2 285.0 L904.2 287.0 905.2 292.9 L906.2 300.9 907.2 309.9 L908.2 319.3 909.2 329.1 L910.2 339.1 911.2 349.1 L912.2 359.3 913.2 369.5 L914.2 372.5 915.2 372.5 L916.2 372.5 917.2 372.5 L918.2 372.5 919.2 372.5 L920.2 372.5 921.2 372.5 L922.2 372.5 923.2 372.5 L924.2 372.5 925.2 372.5 L926.2 372.5 927.2 372.5 L928.2 372.5 929.2 372.5 L930.2 372.5 931.2 372.5 L932.2 372.5 933.2 372.5 L934.2 372.5 935.2 372.5 L936.2 372.5 937.2 372.5 L938.2 372.5 939.2 372.5 L940.2 372.5 941.2 372.5 L942.2 372.5 943.2 372.5 L944.2 372.5 945.2 372.5 L946.2 372.5 947.2 372.5 L948.2 372.5 949.2 372.5 L950.2 372.5 951.2 372.5 L952.2 372.5 953.2 372.5 L954.2 372.5 955.2 372.5 L956.2 372.5 957.2 372.5 L958.2 372.5 959.2 372.5 L960.2 372.5 961.2 372.5 L962.2 372.5 963.2 372.5 L964.2 372.5 965.2 372.5 L966.2 372.5 967.2 372.5 L968.2 372.5 969.2 372.5 L970.2 372.5 971.2 372.5 L972.2 372.5 973.2 372.5 L974.2 372.5 975.2 372.5 L976.2 372.5 977.2 372.5 L978.2 372.5 979.2 372.5 L980.2 372.5 981.2 372.5 L982.2 372.5 983.2 372.5 L984.2 372.5 985.2 372.5 L986.2 372.5 987.2 372.5 L988.2 372.5 989.2 372.5 L990.2 372.5 991.2 372.5 L992.2 372.5 993.2 372.5 L994.2 372.5 995.2 372.5 L996.2 372.4 997.2 372.4 L998.2 372.3 999.2 372.2 L1000.2 372.1 1001.2 371.9 L1002.2 371.6 1003.2 371.3 L1004.2 371.0 1005.2 370.6 L1006.2 370.3 1007.2 369.9 L1008.2 369.7 1009.2 369.5 L1010.2 369.5 1011.2 369.6 L1012.2 369.8 1013.2 370.1 L1014.2 370.4 1015.2 370.8 L1016.2 371.1 1017.2 371.4 L1018.2 371.7 1019.2 371.9 L1020.2 372.1 1021.2 372.3 L1022.2 372.3 1023.2 372.4 L1024.2 372.4 1025.2 372.5 L1026.2 372.5 1027.2 372.5 L1028.2 372.5 1029.2 372.5 L1030.2 365.5 1031.2 355.5 L1032.2 345.6 1033.2 335.8 L1034.2 326.2 1035.2 316.7 L1036.2 307.7 1037.2 299.3 L1038.2 292.3 1039.2 288.2 L1040.2 288.7 1041.2 293.5 L1042.2 300.9 1043.2 309.4 L1044.2 318.6 1045.2 328.1 L1046.2 337.8 1047.2 347.6 L1048.2 357.5 1049.2 367.5 L1052.6 367.5 L1052.6 372.5" fill="rgba(90,140,225,0.16)" stroke="rgb(52,112,214)" stroke-width="2" stroke-linejoin="round"/>
<path d="M9.2 372.5 L9.2 373.3 L12.2 373.3 13.2 373.3 L14.2 373.3 15.2 373.3 L16.2 373.3 17.2 373.3 L18.2 373.3 19.2 373.3 L20.2 373.3 21.2 373.3 L22.2 373.2 23.2 373.1 L24.2 372.8 25.2 372.5 L26.2 372.0 27.2 371.4 L28.2 370.8 29.2 370.4 L30.2 370.3 31.2 370.5 L32.2 371.0 33.2 371.6 L34.2 372.2 35.2 372.6 L36.2 372.9 37.2 373.1 L38.2 373.2 39.2 373.3 L40.2 373.3 41.2 373.3 L42.2 373.3 43.2 373.3 L44.2 373.3 45.2 373.3 L46.2 373.3 47.2 373.3 L48.2 373.3 49.2 373.3 L50.2 373.3 51.2 373.3 L52.2 373.3 53.2 373.3 L54.2 373.3 55.2 373.3 L56.2 373.3 57.2 373.3 L58.2 373.3 59.2 373.3 L60.2 373.3 61.2 373.3 L62.2 373.2 63.2 373.1 L64.2 373.0 65.2 372.8 L66.2 372.4 67.2 371.9 L68.2 371.2 69.2 370.4 L70.2 369.5 71.2 368.6 L72.2 367.9 73.2 367.4 L74.2 367.3 75.2 367.6 L76.2 368.1 77.2 368.9 L78.2 369.8 79.2 370.7 L80.2 371.5 81.2 372.1 L82.2 372.6 83.2 372.9 L84.2 373.1 85.2 373.2 L86.2 373.2 87.2 373.3 L88.2 373.3 89.2 373.3 L90.2 373.3 91.2 373.3 L92.2 373.3 93.2 373.3 L94.2 373.3 95.2 373.3 L96.2 373.3 97.2 373.3 L98.2 373.3 99.2 373.3 L100.2 373.3 101.2 373.3 L102.2 373.3 103.2 373.3 L104.2 373.3 105.2 373.3 L106.2 373.3 107.2 373.3 L108.2 373.3 109.2 373.3 L110.2 373.3 111.2 373.3 L112.2 373.3 113.2 373.3 L114.2 373.3 115.2 373.3 L116.2 373.3 117.2 373.3 L118.2 373.3 119.2 373.3 L120.2 373.3 121.2 373.3 L122.2 373.3 123.2 373.3 L124.2 369.3 125.2 358.8 L126.2 348.5 127.2 338.2 L128.2 328.0 129.2 318.1 L130.2 308.4 131.2 299.2 L132.2 291.1 133.2 285.1 L134.2 283.0 135.2 286.0 L136.2 292.6 137.2 301.0 L138.2 310.3 139.2 320.0 L140.2 330.1 141.2 340.3 L142.2 350.5 143.2 360.9 L144.2 371.3 145.2 373.3 L146.2 373.3 147.2 373.3 L148.2 373.3 149.2 373.3 L150.2 373.3 151.2 373.3 L152.2 373.3 153.2 373.3 L154.2 373.3 155.2 373.3 L156.2 373.3 157.2 373.3 L158.2 373.3 159.2 373.3 L160.2 373.3 161.2 373.3 L162.2 373.3 163.2 373.3 L164.2 373.3 165.2 373.3 L166.2 373.3 167.2 373.3 L168.2 373.3 169.2 373.3 L170.2 373.3 171.2 373.3 L172.2 373.3 173.2 373.3 L174.2 373.3 175.2 373.3 L176.2 373.3 177.2 373.2 L178.2 373.1 179.2 373.0 L180.2 372.7 181.2 372.1 L182.2 371.4 183.2 370.2 L184.2 368.8 185.2 367.0 L186.2 365.0 187.2 363.1 L188.2 361.6 189.2 360.6 L190.2 360.3 191.2 360.9 L192.2 362.1 193.2 363.9 L194.2 365.8 195.2 367.7 L196.2 369.4 197.2 370.7 L198.2 371.7 199.2 372.3 L200.2 372.7 201.2 372.8 L202.2 372.7 203.2 372.3 L204.2 371.8 205.2 371.2 L206.2 370.7 207.2 370.4 L208.2 370.3 209.2 370.6 L210.2 371.1 211.2 371.7 L212.2 372.3 213.2 372.7 L214.2 373.0 215.2 373.2 L216.2 373.2 217.2 373.3 L218.2 373.3 219.2 373.3 L220.2 373.3 221.2 373.3 L222.2 373.3 223.2 373.3 L224.2 373.3 225.2 373.3 L226.2 373.3 227.2 373.3 L228.2 373.3 229.2 373.3 L230.2 373.3 231.2 373.3 L232.2 373.3 233.2 373.3 L234.2 373.3 235.2 373.3 L236.2 373.3 237.2 373.3 L238.2 373.3 239.2 373.3 L240.2 373.3 241.2 373.3 L242.2 373.3 243.2 373.3 L244.2 373.3 245.2 373.3 L246.2 373.3 247.2 373.3 L248.2 373.3 249.2 373.3 L250.2 373.3 251.2 373.3 L252.2 373.3 253.2 373.3 L254.2 373.3 255.2 373.3 L256.2 373.3 257.2 373.3 L258.2 369.9 259.2 357.8 L260.2 345.8 261.2 333.8 L262.2 321.9 263.2 310.2 L264.2 298.7 265.2 287.5 L266.2 277.0 267.2 267.8 L268.2 261.2 269.2 259.4 L270.2 263.4 271.2 271.3 L272.2 281.1 273.2 291.9 L274.2 303.3 275.2 314.9 L276.2 326.7 277.2 338.6 L278.2 350.6 279.2 362.6 L280.2 373.3 281.2 373.3 L282.2 373.3 283.2 373.3 L284.2 373.3 285.2 373.3 L286.2 373.3 287.2 373.3 L288.2 373.3 289.2 373.3 L290.2 373.3 291.2 373.3 L292.2 373.3 293.2 373.3 L294.2 373.3 295.2 373.3 L296.2 373.3 297.2 373.3 L298.2 373.3 299.2 373.3 L300.2 373.3 301.2 373.3 L302.2 373.3 303.2 373.3 L304.2 373.3 305.2 373.3 L306.2 373.3 307.2 373.3 L308.2 373.3 309.2 373.3 L310.2 373.3 311.2 373.3 L312.2 373.3 313.2 373.3 L314.2 373.3 315.2 373.3 L316.2 373.3 317.2 373.3 L318.2 373.3 319.2 373.3 L320.2 373.3 321.2 373.3 L322.2 373.3 323.2 373.3 L324.2 373.3 325.2 373.3 L326.2 373.3 327.2 373.3 L328.2 373.3 329.2 373.3 L330.2 373.3 331.2 373.2 L332.2 373.1 333.2 372.8 L334.2 372.3 335.2 371.3 L336.2 369.9 337.2 368.0 L338.2 365.9 339.2 364.0 L340.2 362.9 341.2 362.9 L342.2 364.0 343.2 365.9 L344.2 368.0 345.2 369.9 L346.2 371.3 347.2 372.3 L348.2 372.8 349.2 373.1 L350.2 373.2 351.2 373.3 L352.2 373.3 353.2 373.3 L354.2 373.3 355.2 364.9 L356.2 355.5 357.2 346.2 L358.2 337.0 359.2 327.9 L360.2 319.0 361.2 310.6 L362.2 303.1 363.2 297.3 L364.2 295.0 365.2 297.2 L366.2 302.8 367.2 310.1 L368.2 318.1 369.2 326.5 L370.2 335.1 371.2 343.7 L372.2 352.4 373.2 361.1 L374.2 368.7 375.2 368.1 L376.2 367.6 377.2 367.4 L378.2 367.3 379.2 367.5 L380.2 367.9 381.2 368.5 L382.2 369.2 383.2 369.9 L384.2 370.6 385.2 371.2 L386.2 371.8 387.2 372.2 L388.2 372.6 389.2 372.8 L390.2 373.0 391.2 373.1 L392.2 373.2 393.2 373.2 L394.2 373.3 395.2 373.3 L396.2 373.3 397.2 373.3 L398.2 373.3 399.2 373.3 L400.2 373.3 401.2 373.3 L402.2 373.3 403.2 373.3 L404.2 373.3 405.2 373.3 L406.2 373.3 407.2 373.3 L408.2 373.3 409.2 373.3 L410.2 373.3 411.2 373.3 L412.2 373.3 413.2 373.3 L414.2 373.3 415.2 373.3 L416.2 373.3 417.2 373.3 L418.2 373.3 419.2 373.3 L420.2 373.3 421.2 373.3 L422.2 373.3 423.2 373.3 L424.2 373.3 425.2 373.2 L426.2 373.1 427.2 372.8 L428.2 372.4 429.2 371.6 L430.2 370.6 431.2 369.4 L432.2 368.3 433.2 367.5 L434.2 367.3 435.2 367.8 L436.2 368.7 437.2 369.9 L438.2 371.0 439.2 371.9 L440.2 372.4 441.2 372.5 L442.2 372.2 443.2 371.6 L444.2 370.7 445.2 369.8 L446.2 368.9 447.2 368.4 L448.2 368.4 449.2 368.9 L450.2 369.8 451.2 370.8 L452.2 371.7 453.2 372.4 L454.2 372.8 455.2 373.1 L456.2 373.2 457.2 373.2 L458.2 373.0 459.2 372.8 L460.2 372.2 461.2 371.4 L462.2 370.4 463.2 369.2 L464.2 368.1 465.2 367.4 L466.2 367.4 467.2 367.9 L468.2 368.9 469.2 370.1 L470.2 371.3 471.2 372.1 L472.2 372.7 473.2 373.0 L474.2 373.2 475.2 373.3 L476.2 373.3 477.2 373.3 L478.2 373.3 479.2 373.3 L480.2 373.3 481.2 373.3 L482.2 373.3 483.2 373.3 L484.2 373.3 485.2 373.3 L486.2 373.3 487.2 369.7 L488.2 362.5 489.2 355.3 L490.2 348.2 491.2 341.3 L492.2 334.5 493.2 328.0 L494.2 322.2 495.2 317.6 L496.2 315.5 497.2 316.9 L498.2 321.1 499.2 326.8 L500.2 333.2 501.2 339.9 L502.2 346.8 503.2 353.9 L504.2 361.1 505.2 368.3 L506.2 373.3 507.2 373.3 L508.2 373.3 509.2 373.3 L510.2 373.3 511.2 373.3 L512.2 373.3 513.2 373.3 L514.2 373.3 515.2 373.3 L516.2 373.3 517.2 373.3 L518.2 373.3 519.2 373.3 L520.2 373.3 521.2 373.3 L522.2 373.3 523.2 373.3 L524.2 373.3 525.2 373.3 L526.2 373.3 527.2 373.3 L528.2 373.3 529.2 373.3 L530.2 373.3 531.2 373.3 L532.2 373.3 533.2 373.3 L534.2 373.3 535.2 373.3 L536.2 373.3 537.2 373.3 L538.2 373.3 539.2 373.3 L540.2 373.3 541.2 373.3 L542.2 373.3 543.2 373.3 L544.2 373.3 545.2 373.3 L546.2 373.3 547.2 373.3 L548.2 373.3 549.2 373.2 L550.2 373.2 551.2 373.1 L552.2 373.0 553.2 372.8 L554.2 372.6 555.2 372.3 L556.2 372.0 557.2 371.7 L558.2 371.5 559.2 371.3 L560.2 371.3 561.2 371.4 L562.2 371.6 563.2 371.8 L564.2 372.1 565.2 372.4 L566.2 372.7 567.2 372.9 L568.2 373.1 569.2 373.2 L570.2 373.2 571.2 373.3 L572.2 373.3 573.2 373.3 L574.2 373.3 575.2 373.3 L576.2 373.3 577.2 373.3 L578.2 373.3 579.2 373.3 L580.2 373.3 581.2 373.3 L582.2 373.3 583.2 373.3 L584.2 373.3 585.2 373.3 L586.2 373.3 587.2 373.3 L588.2 373.3 589.2 373.3 L590.2 373.3 591.2 373.3 L592.2 373.3 593.2 373.3 L594.2 373.3 595.2 373.3 L596.2 373.3 597.2 373.3 L598.2 373.3 599.2 373.3 L600.2 373.3 601.2 373.3 L602.2 367.4 603.2 353.4 L604.2 339.5 605.2 325.7 L606.2 312.0 607.2 298.4 L608.2 285.2 609.2 272.4 L610.2 260.4 611.2 250.2 L612.2 243.5 613.2 242.8 L614.2 248.5 615.2 258.2 L616.2 269.9 617.2 282.6 L618.2 295.8 619.2 309.2 L620.2 322.9 621.2 336.7 L622.2 350.6 623.2 357.5 L624.2 354.7 625.2 343.3 L626.2 332.0 627.2 320.8 L628.2 309.7 629.2 298.9 L630.2 288.5 631.2 278.9 L632.2 271.0 633.2 266.3 L634.2 266.8 635.2 272.4 L636.2 280.8 637.2 290.6 L638.2 301.0 639.2 311.9 L640.2 323.0 641.2 334.3 L642.2 345.6 643.2 347.3 L644.2 347.0 645.2 340.1 L646.2 328.4 647.2 316.9 L648.2 305.5 649.2 294.5 L650.2 284.0 651.2 274.4 L652.2 267.0 653.2 263.6 L654.2 265.9 655.2 272.7 L656.2 282.0 657.2 292.3 L658.2 303.3 659.2 314.6 L660.2 326.1 661.2 337.7 L662.2 349.5 663.2 361.2 L664.2 373.1 665.2 373.3 L666.2 373.3 667.2 373.3 L668.2 373.3 669.2 373.3 L670.2 373.3 671.2 373.3 L672.2 373.3 673.2 373.3 L674.2 373.3 675.2 373.3 L676.2 373.3 677.2 373.3 L678.2 373.3 679.2 373.3 L680.2 372.3 681.2 368.0 L682.2 363.8 683.2 359.5 L684.2 355.3 685.2 351.1 L686.2 347.0 687.2 342.9 L688.2 339.0 689.2 335.4 L690.2 332.2 691.2 330.2 L692.2 330.0 693.2 331.7 L694.2 334.7 695.2 338.3 L696.2 342.1 697.2 346.1 L698.2 350.3 699.2 343.3 L700.2 335.7 701.2 328.1 L702.2 320.7 703.2 313.3 L704.2 303.6 705.2 292.2 L706.2 281.1 707.2 270.4 L708.2 260.5 709.2 252.3 L710.2 247.5 711.2 248.1 L712.2 253.8 713.2 262.4 L714.2 272.5 715.2 283.3 L716.2 294.5 717.2 305.9 L718.2 317.5 719.2 329.1 L720.2 335.9 721.2 338.5 L722.2 341.1 723.2 340.7 L724.2 331.5 725.2 322.5 L726.2 313.5 727.2 304.8 L728.2 296.3 729.2 288.4 L730.2 281.7 731.2 277.2 L732.2 276.8 733.2 280.6 L734.2 287.0 735.2 294.7 L736.2 303.1 737.2 311.8 L738.2 320.7 739.2 329.7 L740.2 338.8 741.2 348.0 L742.2 357.2 743.2 366.5 L744.2 373.3 745.2 373.3 L746.2 373.3 747.2 373.3 L748.2 373.3 749.2 373.3 L750.2 373.3 751.2 373.3 L752.2 373.3 753.2 373.3 L754.2 373.3 755.2 373.3 L756.2 373.3 757.2 373.3 L758.2 373.3 759.2 373.3 L760.2 373.3 761.2 373.3 L762.2 373.3 763.2 373.3 L764.2 373.3 765.2 373.3 L766.2 373.2 767.2 373.1 L768.2 373.0 769.2 372.7 L770.2 372.3 771.2 371.6 L772.2 370.8 773.2 369.8 L774.2 368.6 775.2 367.4 L776.2 366.3 777.2 365.6 L778.2 365.3 779.2 365.4 L780.2 366.0 781.2 366.9 L782.2 367.9 783.2 368.8 L784.2 369.6 785.2 370.0 L786.2 370.3 787.2 370.3 L788.2 370.2 789.2 370.2 L790.2 370.2 791.2 370.4 L792.2 370.7 793.2 371.1 L794.2 371.6 795.2 372.0 L796.2 372.4 797.2 372.7 L798.2 372.9 799.2 373.1 L800.2 373.2 801.2 373.2 L802.2 373.3 803.2 373.3 L804.2 373.3 805.2 373.3 L806.2 373.3 807.2 373.3 L808.2 373.3 809.2 373.3 L810.2 373.3 811.2 373.3 L812.2 373.3 813.2 373.3 L814.2 373.3 815.2 373.3 L816.2 373.3 817.2 373.3 L818.2 373.3 819.2 373.3 L820.2 373.3 821.2 373.3 L822.2 373.3 823.2 373.3 L824.2 373.3 825.2 373.3 L826.2 373.3 827.2 373.3 L828.2 373.3 829.2 373.3 L830.2 373.3 831.2 373.3 L832.2 373.3 833.2 373.3 L834.2 373.3 835.2 373.3 L836.2 373.3 837.2 373.3 L838.2 373.3 839.2 373.3 L840.2 373.3 841.2 373.3 L842.2 373.3 843.2 373.3 L844.2 373.3 845.2 373.3 L846.2 373.3 847.2 373.3 L848.2 373.3 849.2 373.3 L850.2 373.3 851.2 373.3 L852.2 373.3 853.2 373.3 L854.2 373.3 855.2 373.3 L856.2 373.3 857.2 373.3 L858.2 373.3 859.2 373.3 L860.2 373.3 861.2 373.3 L862.2 373.3 863.2 373.3 L864.2 373.3 865.2 373.3 L866.2 373.3 867.2 373.3 L868.2 373.3 869.2 365.1 L870.2 349.6 871.2 334.2 L872.2 318.9 873.2 303.6 L874.2 288.4 875.2 273.3 L876.2 258.4 877.2 243.8 L878.2 229.6 879.2 216.4 L880.2 204.9 881.2 197.0 L882.2 195.5 883.2 201.1 L884.2 211.5 885.2 224.2 L886.2 238.0 887.2 252.5 L888.2 267.3 889.2 282.3 L890.2 297.5 891.2 312.7 L892.2 328.1 893.2 343.5 L894.2 358.9 895.2 373.3 L896.2 373.3 897.2 373.3 L898.2 373.3 899.2 373.3 L900.2 373.3 901.2 373.3 L902.2 373.3 903.2 373.3 L904.2 373.3 905.2 373.3 L906.2 373.3 907.2 373.3 L908.2 373.3 909.2 373.3 L910.2 373.3 911.2 373.3 L912.2 373.3 913.2 373.3 L914.2 373.3 915.2 373.3 L916.2 373.3 917.2 373.3 L918.2 373.3 919.2 373.3 L920.2 373.3 921.2 373.3 L922.2 373.3 923.2 373.3 L924.2 373.3 925.2 373.3 L926.2 373.3 927.2 373.3 L928.2 373.3 929.2 373.3 L930.2 373.3 931.2 373.3 L932.2 367.2 933.2 352.6 L934.2 338.1 935.2 323.7 L936.2 309.4 937.2 295.3 L938.2 281.5 939.2 268.3 L940.2 256.0 941.2 245.9 L942.2 239.9 943.2 240.6 L944.2 247.7 945.2 258.4 L946.2 270.8 947.2 284.2 L948.2 298.1 949.2 312.2 L950.2 318.6 951.2 324.5 L952.2 330.6 953.2 336.9 L954.2 331.7 955.2 323.4 L956.2 315.2 957.2 307.3 L958.2 299.6 959.2 292.4 L960.2 286.4 961.2 282.6 L962.2 282.6 963.2 286.4 L964.2 292.4 965.2 299.6 L966.2 307.3 967.2 315.2 L968.2 323.4 969.2 331.7 L970.2 340.0 971.2 339.2 L972.2 337.8 973.2 336.5 L974.2 334.8 975.2 325.1 L976.2 315.6 977.2 306.1 L978.2 296.9 979.2 288.1 L980.2 279.9 981.2 273.1 L982.2 269.1 983.2 269.6 L984.2 274.3 985.2 281.5 L986.2 289.8 987.2 298.7 L988.2 308.0 989.2 317.5 L990.2 327.1 991.2 336.7 L992.2 346.5 993.2 356.2 L994.2 366.0 995.2 373.3 L996.2 373.3 997.2 373.3 L998.2 373.3 999.2 373.3 L1000.2 373.3 1001.2 373.3 L1002.2 373.3 1003.2 373.3 L1004.2 373.3 1005.2 373.3 L1006.2 373.3 1007.2 373.3 L1008.2 373.3 1009.2 369.3 L1010.2 355.3 1011.2 341.4 L1012.2 327.5 1013.2 313.7 L1014.2 300.0 1015.2 286.4 L1016.2 273.1 1017.2 260.2 L1018.2 248.0 1019.2 237.2 L1020.2 229.1 1021.2 226.4 L1022.2 230.4 1023.2 239.2 L1024.2 250.4 1025.2 262.8 L1026.2 275.8 1027.2 289.1 L1028.2 302.7 1029.2 316.5 L1030.2 330.3 1031.2 344.2 L1032.2 358.1 1033.2 372.1 L1034.2 373.3 1035.2 373.3 L1036.2 373.3 1037.2 373.3 L1038.2 373.3 1039.2 373.3 L1040.2 373.3 1041.2 373.3 L1042.2 373.3 1043.2 373.3 L1044.2 373.3 1045.2 373.2 L1046.2 366.0 1047.2 358.9 L1048.2 351.8 1049.2 344.8 L1052.6 344.8 L1052.6 372.5" fill="rgba(0,0,0,0.13)" stroke="rgb(24,24,24)" stroke-width="2" stroke-linejoin="round"/>
<path d="M9.2 372.5 L9.2 372.5 L12.2 372.5 13.2 372.5 L14.2 372.5 15.2 372.5 L16.2 372.5 17.2 372.5 L18.2 372.5 19.2 372.5 L20.2 372.5 21.2 372.5 L22.2 372.4 23.2 372.4 L24.2 372.3 25.2 372.3 L26.2 372.1 27.2 371.9 L28.2 371.6 29.2 371.3 L30.2 370.9 31.2 370.5 L32.2 370.0 33.2 369.5 L34.2 369.1 35.2 368.8 L36.2 368.6 37.2 368.5 L38.2 368.6 39.2 368.9 L40.2 369.2 41.2 369.7 L42.2 370.2 43.2 370.6 L44.2 371.1 45.2 371.5 L46.2 371.8 47.2 372.0 L48.2 372.2 49.2 372.3 L50.2 372.4 51.2 372.4 L52.2 372.5 53.2 372.5 L54.2 372.5 55.2 372.5 L56.2 372.5 57.2 372.5 L58.2 372.5 59.2 372.5 L60.2 372.5 61.2 372.5 L62.2 372.5 63.2 372.5 L64.2 372.5 65.2 372.5 L66.2 372.5 67.2 372.5 L68.2 372.5 69.2 372.5 L70.2 372.5 71.2 372.5 L72.2 372.5 73.2 372.5 L74.2 372.5 75.2 372.5 L76.2 372.5 77.2 372.5 L78.2 372.5 79.2 372.5 L80.2 372.5 81.2 372.5 L82.2 372.5 83.2 372.5 L84.2 372.5 85.2 372.5 L86.2 372.5 87.2 372.5 L88.2 372.5 89.2 372.5 L90.2 372.5 91.2 372.5 L92.2 372.5 93.2 372.4 L94.2 372.4 95.2 372.3 L96.2 372.3 97.2 372.1 L98.2 371.9 99.2 371.6 L100.2 371.3 101.2 370.9 L102.2 370.5 103.2 370.0 L104.2 369.5 105.2 369.1 L106.2 368.8 107.2 368.6 L108.2 368.5 109.2 368.6 L110.2 368.9 111.2 369.2 L112.2 369.7 113.2 370.2 L114.2 370.6 115.2 371.1 L116.2 371.5 117.2 371.8 L118.2 372.0 119.2 372.2 L120.2 372.3 121.2 372.4 L122.2 372.4 123.2 372.5 L124.2 372.5 125.2 372.5 L126.2 372.5 127.2 372.5 L128.2 372.5 129.2 372.5 L130.2 372.5 131.2 372.5 L132.2 372.5 133.2 372.5 L134.2 372.5 135.2 372.5 L136.2 372.5 137.2 372.5 L138.2 372.4 139.2 372.4 L140.2 372.3 141.2 372.2 L142.2 372.1 143.2 371.9 L144.2 371.7 145.2 371.4 L146.2 371.1 147.2 370.8 L148.2 370.5 149.2 370.3 L150.2 370.1 151.2 370.0 L152.2 370.0 153.2 370.1 L154.2 370.3 155.2 370.6 L156.2 370.9 157.2 371.2 L158.2 371.5 159.2 371.7 L160.2 371.9 161.2 372.1 L162.2 372.2 163.2 372.3 L164.2 372.4 165.2 372.4 L166.2 372.5 167.2 372.5 L168.2 372.5 169.2 372.5 L170.2 372.5 171.2 372.5 L172.2 372.5 173.2 372.5 L174.2 372.5 175.2 372.5 L176.2 372.5 177.2 372.5 L178.2 372.5 179.2 372.5 L180.2 372.5 181.2 372.5 L182.2 372.5 183.2 372.5 L184.2 372.5 185.2 372.5 L186.2 372.5 187.2 372.5 L188.2 372.5 189.2 372.5 L190.2 372.5 191.2 372.5 L192.2 372.5 193.2 372.5 L194.2 372.5 195.2 372.5 L196.2 372.5 197.2 372.5 L198.2 372.5 199.2 372.5 L200.2 372.5 201.2 372.5 L202.2 372.5 203.2 372.5 L204.2 372.5 205.2 372.5 L206.2 372.5 207.2 372.5 L208.2 372.5 209.2 372.5 L210.2 372.5 211.2 372.5 L212.2 372.5 213.2 372.5 L214.2 372.5 215.2 372.5 L216.2 372.5 217.2 372.5 L218.2 372.5 219.2 372.5 L220.2 372.5 221.2 372.5 L222.2 372.5 223.2 372.5 L224.2 372.5 225.2 372.5 L226.2 372.5 227.2 372.5 L228.2 372.5 229.2 372.5 L230.2 372.5 231.2 372.5 L232.2 372.5 233.2 372.5 L234.2 372.5 235.2 372.5 L236.2 372.5 237.2 372.4 L238.2 372.3 239.2 372.1 L240.2 371.9 241.2 371.4 L242.2 370.7 243.2 369.6 L244.2 368.3 245.2 366.5 L246.2 364.4 247.2 362.2 L248.2 359.9 249.2 357.9 L250.2 356.4 251.2 355.6 L252.2 355.6 253.2 356.4 L254.2 357.9 255.2 359.9 L256.2 362.2 257.2 364.4 L258.2 366.5 259.2 368.3 L260.2 369.6 261.2 370.7 L262.2 371.4 263.2 371.9 L264.2 372.1 265.2 372.3 L266.2 372.4 267.2 372.5 L268.2 372.5 269.2 372.5 L270.2 372.5 271.2 372.5 L272.2 372.5 273.2 372.5 L274.2 372.5 275.2 372.5 L276.2 372.5 277.2 372.5 L278.2 372.5 279.2 372.5 L280.2 361.0 281.2 349.5 L282.2 338.1 283.2 326.8 L284.2 315.6 285.2 304.6 L286.2 293.9 287.2 283.9 L288.2 275.1 289.2 268.8 L290.2 267.1 291.2 270.9 L292.2 278.4 293.2 287.8 L294.2 298.1 295.2 309.0 L296.2 320.0 297.2 330.9 L298.2 341.6 299.2 352.1 L300.2 362.5 301.2 368.2 L302.2 367.1 303.2 366.2 L304.2 365.7 305.2 365.5 L306.2 365.6 307.2 365.7 L308.2 365.9 309.2 366.1 L310.2 366.3 311.2 366.5 L312.2 366.5 313.2 366.2 L314.2 365.7 315.2 364.9 L316.2 363.9 317.2 362.8 L318.2 361.7 319.2 360.7 L320.2 359.8 321.2 359.1 L322.2 358.6 323.2 358.5 L324.2 358.7 325.2 359.2 L326.2 359.8 327.2 360.4 L328.2 361.0 329.2 361.4 L330.2 361.5 331.2 360.9 L332.2 359.6 333.2 358.0 L334.2 356.3 335.2 354.8 L336.2 353.8 337.2 353.5 L338.2 353.8 339.2 354.4 L340.2 355.2 341.2 356.1 L342.2 356.8 343.2 357.4 L344.2 357.5 345.2 357.4 L346.2 357.3 347.2 357.1 L348.2 356.8 349.2 356.6 L350.2 356.3 351.2 356.1 L352.2 355.8 353.2 355.6 L354.2 355.5 355.2 355.5 L356.2 355.4 357.2 355.3 L358.2 355.1 359.2 354.8 L360.2 354.6 361.2 354.3 L362.2 354.1 363.2 353.8 L364.2 353.6 365.2 353.5 L366.2 353.5 367.2 353.4 L368.2 353.3 369.2 353.0 L370.2 352.7 371.2 352.4 L372.2 352.1 373.2 351.9 L374.2 351.7 375.2 351.5 L376.2 351.5 377.2 351.0 L378.2 350.0 379.2 348.8 L380.2 347.6 381.2 346.7 L382.2 346.5 383.2 347.4 L384.2 349.3 385.2 351.7 L386.2 354.3 387.2 356.5 L388.2 358.1 389.2 358.5 L390.2 358.5 391.2 358.5 L392.2 354.3 393.2 342.9 L394.2 331.6 395.2 320.4 L396.2 309.2 397.2 298.1 L398.2 287.2 399.2 276.6 L400.2 266.5 401.2 257.4 L402.2 250.3 403.2 247.0 L404.2 249.3 405.2 256.1 L406.2 265.2 407.2 275.5 L408.2 286.3 409.2 297.5 L410.2 308.7 411.2 320.1 L412.2 331.4 413.2 342.5 L414.2 353.6 415.2 359.7 L416.2 359.2 417.2 358.7 L418.2 358.1 419.2 357.6 L420.2 357.1 421.2 356.8 L422.2 356.6 423.2 356.5 L424.2 357.1 425.2 358.4 L426.2 360.0 427.2 361.7 L428.2 363.2 429.2 364.2 L430.2 364.5 431.2 364.3 L432.2 363.8 433.2 363.2 L434.2 362.6 435.2 362.0 L436.2 361.6 437.2 361.5 L438.2 361.6 439.2 361.9 L440.2 362.3 441.2 362.8 L442.2 363.3 443.2 363.9 L444.2 364.4 445.2 364.9 L446.2 365.2 447.2 365.4 L448.2 365.5 449.2 365.5 L450.2 365.5 451.2 365.5 L452.2 365.5 453.2 365.5 L454.2 365.5 455.2 365.5 L456.2 365.5 457.2 365.5 L458.2 365.6 459.2 365.8 L460.2 366.0 461.2 366.4 L462.2 366.7 463.2 367.1 L464.2 367.5 465.2 367.9 L466.2 368.2 467.2 368.5 L468.2 368.7 469.2 368.8 L470.2 368.7 471.2 368.6 L472.2 368.5 473.2 368.5 L474.2 368.4 475.2 368.4 L476.2 368.3 477.2 368.4 L478.2 368.4 479.2 368.6 L480.2 368.8 481.2 369.0 L482.2 369.3 483.2 369.7 L484.2 370.0 485.2 370.3 L486.2 370.6 487.2 370.7 L488.2 370.8 489.2 370.8 L490.2 370.8 491.2 370.6 L492.2 370.4 493.2 370.2 L494.2 369.9 495.2 369.7 L496.2 369.4 497.2 369.1 L498.2 368.9 499.2 368.6 L500.2 368.4 501.2 368.2 L502.2 368.1 503.2 368.0 L504.2 368.0 505.2 368.1 L506.2 368.2 507.2 368.5 L508.2 368.8 509.2 369.1 L510.2 369.5 511.2 369.9 L512.2 370.3 513.2 370.8 L514.2 371.2 515.2 371.5 L516.2 371.9 517.2 372.1 L518.2 372.3 519.2 372.5 L520.2 372.5 521.2 372.5 L522.2 372.5 523.2 372.5 L524.2 372.5 525.2 372.5 L526.2 372.5 527.2 367.3 L528.2 354.3 529.2 341.3 L530.2 328.5 531.2 315.8 L532.2 303.5 533.2 291.6 L534.2 280.6 535.2 271.5 L536.2 266.1 537.2 266.8 L538.2 273.1 539.2 282.7 L540.2 293.9 541.2 305.9 L542.2 318.3 543.2 331.0 L544.2 340.9 545.2 346.6 L546.2 352.5 547.2 348.0 L548.2 340.9 549.2 334.0 L550.2 327.1 551.2 320.5 L552.2 314.4 553.2 309.1 L554.2 305.6 555.2 305.3 L556.2 308.2 557.2 313.2 L558.2 319.3 559.2 325.8 L560.2 332.6 561.2 339.5 L562.2 346.6 563.2 343.9 L564.2 339.2 565.2 334.6 L566.2 327.3 567.2 315.7 L568.2 304.2 569.2 293.0 L570.2 282.2 571.2 272.1 L572.2 263.6 573.2 258.3 L574.2 258.3 575.2 263.6 L576.2 272.1 577.2 282.2 L578.2 293.0 579.2 304.2 L580.2 315.7 581.2 327.3 L582.2 339.0 583.2 341.5 L584.2 343.3 585.2 343.1 L586.2 333.1 587.2 323.3 L588.2 313.5 589.2 303.9 L590.2 294.7 591.2 286.2 L592.2 279.0 593.2 274.7 L594.2 275.0 595.2 279.6 L596.2 286.7 597.2 295.1 L598.2 304.1 599.2 313.6 L600.2 323.3 601.2 333.2 L602.2 343.3 603.2 353.5 L604.2 363.8 605.2 371.3 L606.2 371.6 607.2 371.8 L608.2 372.0 609.2 372.1 L610.2 372.3 611.2 372.3 L612.2 372.4 613.2 372.4 L614.2 372.5 615.2 372.5 L616.2 372.5 617.2 372.5 L618.2 372.5 619.2 372.5 L620.2 372.5 621.2 372.5 L622.2 372.5 623.2 372.5 L624.2 372.5 625.2 372.5 L626.2 372.5 627.2 372.5 L628.2 372.5 629.2 372.5 L630.2 372.5 631.2 372.5 L632.2 372.5 633.2 372.5 L634.2 372.5 635.2 372.5 L636.2 372.5 637.2 372.5 L638.2 372.5 639.2 372.5 L640.2 372.5 641.2 372.5 L642.2 372.5 643.2 372.5 L644.2 372.5 645.2 372.5 L646.2 372.5 647.2 372.5 L648.2 372.5 649.2 372.5 L650.2 372.5 651.2 372.5 L652.2 372.5 653.2 372.5 L654.2 372.5 655.2 372.5 L656.2 372.5 657.2 372.5 L658.2 372.5 659.2 372.5 L660.2 372.5 661.2 372.5 L662.2 372.5 663.2 372.5 L664.2 372.5 665.2 372.5 L666.2 372.5 667.2 372.5 L668.2 372.5 669.2 372.5 L670.2 372.5 671.2 372.5 L672.2 372.5 673.2 372.5 L674.2 372.5 675.2 372.5 L676.2 372.5 677.2 372.5 L678.2 372.5 679.2 372.5 L680.2 371.2 681.2 365.8 L682.2 360.3 683.2 354.9 L684.2 349.5 685.2 344.2 L686.2 338.9 687.2 333.7 L688.2 328.8 689.2 324.1 L690.2 320.1 691.2 317.5 L692.2 317.2 693.2 319.4 L694.2 323.2 695.2 327.8 L696.2 332.7 697.2 337.9 L698.2 343.1 699.2 348.4 L700.2 353.8 701.2 359.2 L702.2 364.7 703.2 370.1 L704.2 372.5 705.2 372.5 L706.2 372.5 707.2 372.5 L708.2 372.5 709.2 372.5 L710.2 372.5 711.2 372.5 L712.2 372.5 713.2 372.5 L714.2 372.5 715.2 372.5 L716.2 372.5 717.2 372.5 L718.2 372.5 719.2 372.5 L720.2 372.5 721.2 372.5 L722.2 372.5 723.2 372.5 L724.2 372.5 725.2 372.5 L726.2 372.5 727.2 372.5 L728.2 372.5 729.2 372.5 L730.2 372.5 731.2 372.5 L732.2 372.5 733.2 372.5 L734.2 372.5 735.2 372.5 L736.2 372.5 737.2 372.5 L738.2 372.5 739.2 372.5 L740.2 372.5 741.2 372.5 L742.2 372.5 743.2 372.5 L744.2 372.5 745.2 372.5 L746.2 372.5 747.2 372.5 L748.2 372.5 749.2 372.5 L750.2 372.4 751.2 372.4 L752.2 372.3 753.2 372.1 L754.2 371.7 755.2 371.2 L756.2 370.6 757.2 369.7 L758.2 368.7 759.2 367.6 L760.2 366.7 761.2 365.9 L762.2 365.5 763.2 365.6 L764.2 366.0 765.2 366.8 L766.2 367.8 767.2 368.9 L768.2 369.9 769.2 370.7 L770.2 371.3 771.2 371.8 L772.2 372.1 773.2 372.3 L774.2 372.4 775.2 372.5 L776.2 372.5 777.2 372.5 L778.2 372.5 779.2 372.5 L780.2 372.5 781.2 372.5 L782.2 372.5 783.2 372.5 L784.2 372.5 785.2 372.5 L786.2 372.5 787.2 372.5 L788.2 372.5 789.2 372.5 L790.2 372.5 791.2 372.5 L792.2 372.5 793.2 372.5 L794.2 372.5 795.2 372.5 L796.2 372.5 797.2 372.5 L798.2 372.5 799.2 372.5 L800.2 372.5 801.2 372.5 L802.2 372.5 803.2 372.5 L804.2 372.5 805.2 372.5 L806.2 372.5 807.2 372.5 L808.2 372.5 809.2 372.5 L810.2 372.5 811.2 372.5 L812.2 372.5 813.2 372.5 L814.2 372.5 815.2 372.5 L816.2 372.5 817.2 372.5 L818.2 372.5 819.2 372.5 L820.2 372.5 821.2 372.5 L822.2 372.5 823.2 372.5 L824.2 372.5 825.2 372.5 L826.2 372.5 827.2 372.5 L828.2 372.5 829.2 372.5 L830.2 372.5 831.2 372.5 L832.2 372.5 833.2 372.5 L834.2 372.5 835.2 372.5 L836.2 372.5 837.2 372.5 L838.2 372.5 839.2 372.5 L840.2 372.5 841.2 372.5 L842.2 372.5 843.2 372.5 L844.2 372.5 845.2 372.5 L846.2 372.5 847.2 372.5 L848.2 372.5 849.2 372.5 L850.2 372.5 851.2 372.5 L852.2 372.5 853.2 363.6 L854.2 351.9 855.2 340.4 L856.2 328.9 857.2 317.5 L858.2 306.3 859.2 295.4 L860.2 285.1 861.2 275.7 L862.2 268.4 863.2 265.0 L864.2 267.3 865.2 274.0 L866.2 283.1 867.2 293.3 L868.2 304.1 869.2 315.3 L870.2 326.6 871.2 338.1 L872.2 349.6 873.2 361.2 L874.2 372.5 875.2 372.5 L876.2 372.5 877.2 372.5 L878.2 372.5 879.2 372.5 L880.2 372.5 881.2 372.5 L882.2 372.5 883.2 372.5 L884.2 372.5 885.2 372.5 L886.2 372.5 887.2 372.5 L888.2 372.5 889.2 372.5 L890.2 372.5 891.2 372.5 L892.2 372.5 893.2 372.5 L894.2 372.5 895.2 372.5 L896.2 372.5 897.2 372.5 L898.2 372.5 899.2 372.5 L900.2 372.5 901.2 372.5 L902.2 372.5 903.2 372.5 L904.2 372.5 905.2 372.5 L906.2 372.5 907.2 372.5 L908.2 372.5 909.2 372.5 L910.2 372.5 911.2 372.5 L912.2 372.5 913.2 372.5 L914.2 364.6 915.2 353.5 L916.2 342.5 917.2 331.5 L918.2 320.7 919.2 310.1 L920.2 299.7 921.2 290.0 L922.2 281.3 923.2 274.9 L924.2 272.7 925.2 275.9 L926.2 282.9 927.2 291.9 L928.2 301.8 929.2 312.2 L930.2 322.9 931.2 333.7 L932.2 344.7 933.2 355.7 L934.2 366.9 935.2 372.5 L936.2 372.5 937.2 372.5 L938.2 372.5 939.2 372.5 L940.2 372.5 941.2 372.5 L942.2 372.5 943.2 372.5 L944.2 372.5 945.2 372.5 L946.2 372.5 947.2 372.5 L948.2 372.5 949.2 372.5 L950.2 372.5 951.2 372.5 L952.2 372.4 953.2 372.4 L954.2 372.3 955.2 372.1 L956.2 371.9 957.2 371.6 L958.2 371.1 959.2 370.6 L960.2 370.0 961.2 369.4 L962.2 368.9 963.2 368.6 L964.2 368.5 965.2 368.7 L966.2 369.1 967.2 369.6 L968.2 370.2 969.2 370.8 L970.2 371.3 971.2 371.7 L972.2 372.0 973.2 372.2 L974.2 372.3 975.2 372.4 L976.2 372.5 977.2 372.5 L978.2 372.5 979.2 372.5 L980.2 372.5 981.2 372.5 L982.2 372.5 983.2 372.5 L984.2 372.5 985.2 372.5 L986.2 372.5 987.2 372.5 L988.2 372.5 989.2 372.5 L990.2 372.5 991.2 372.5 L992.2 366.5 993.2 355.9 L994.2 345.4 995.2 335.0 L996.2 324.7 997.2 314.5 L998.2 304.7 999.2 295.5 L1000.2 287.4 1001.2 281.6 L1002.2 280.0 1003.2 283.5 L1004.2 290.4 1005.2 299.1 L1006.2 308.6 1007.2 318.6 L1008.2 328.8 1009.2 339.1 L1010.2 349.6 1011.2 360.2 L1012.2 370.8 1013.2 372.5 L1014.2 372.5 1015.2 372.5 L1016.2 372.5 1017.2 372.5 L1018.2 372.5 1019.2 372.5 L1020.2 372.5 1021.2 372.5 L1022.2 372.5 1023.2 372.5 L1024.2 372.5 1025.2 372.5 L1026.2 372.5 1027.2 372.5 L1028.2 372.5 1029.2 372.5 L1030.2 372.5 1031.2 372.5 L1032.2 372.5 1033.2 372.5 L1034.2 372.5 1035.2 372.5 L1036.2 372.5 1037.2 372.5 L1038.2 372.5 1039.2 372.5 L1040.2 372.5 1041.2 372.5 L1042.2 372.5 1043.2 372.5 L1044.2 372.5 1045.2 372.5 L1046.2 372.5 1047.2 372.5 L1048.2 372.5 1049.2 372.5 L1052.6 372.5 L1052.6 372.5" fill="rgba(235,90,90,0.15)" stroke="rgb(232,88,88)" stroke-width="2" stroke-linejoin="round"/>
<path d="M9.2 685.5 L9.2 601.1 L12.2 601.1 13.2 617.1 L14.2 633.6 15.2 649.2 L16.2 655.8 17.2 662.6 L18.2 654.0 19.2 644.1 L20.2 634.3 21.2 624.8 L22.2 615.8 23.2 607.8 L24.2 601.9 25.2 599.9 L26.2 602.8 27.2 609.3 L28.2 617.5 29.2 626.6 L30.2 636.2 31.2 646.0 L32.2 656.0 33.2 666.1 L34.2 670.0 35.2 666.8 L36.2 654.5 37.2 642.3 L38.2 630.3 39.2 618.5 L40.2 607.1 41.2 596.6 L42.2 587.7 43.2 582.1 L44.2 582.1 45.2 587.7 L46.2 596.6 47.2 607.1 L48.2 618.5 49.2 630.3 L50.2 642.3 51.2 654.5 L52.2 666.8 53.2 679.3 L54.2 685.5 55.2 685.5 L56.2 685.5 57.2 685.5 L58.2 685.5 59.2 685.5 L60.2 685.5 61.2 685.5 L62.2 685.5 63.2 685.5 L64.2 685.5 65.2 685.5 L66.2 685.5 67.2 685.5 L68.2 685.5 69.2 685.5 L70.2 685.5 71.2 678.7 L72.2 669.6 73.2 660.6 L74.2 651.7 75.2 642.9 L76.2 634.4 77.2 626.3 L78.2 619.0 79.2 613.5 L80.2 611.3 81.2 613.5 L82.2 619.0 83.2 626.3 L84.2 634.4 85.2 642.9 L86.2 651.7 87.2 660.6 L88.2 669.6 89.2 678.7 L90.2 685.5 91.2 685.5 L92.2 685.5 93.2 685.5 L94.2 685.5 95.2 685.5 L96.2 685.5 97.2 685.5 L98.2 685.5 99.2 685.5 L100.2 685.5 101.2 685.5 L102.2 685.5 103.2 685.5 L104.2 685.5 105.2 685.5 L106.2 685.5 107.2 685.5 L108.2 685.5 109.2 685.5 L110.2 685.5 111.2 685.5 L112.2 685.5 113.2 685.5 L114.2 685.5 115.2 685.5 L116.2 685.5 117.2 685.5 L118.2 685.5 119.2 685.5 L120.2 685.5 121.2 685.5 L122.2 685.5 123.2 685.5 L124.2 685.5 125.2 685.5 L126.2 685.5 127.2 685.5 L128.2 685.5 129.2 685.5 L130.2 685.5 131.2 685.5 L132.2 685.5 133.2 685.5 L134.2 685.5 135.2 685.5 L136.2 685.5 137.2 685.5 L138.2 685.5 139.2 685.5 L140.2 685.5 141.2 685.5 L142.2 685.5 143.2 685.5 L144.2 685.5 145.2 685.5 L146.2 685.5 147.2 685.5 L148.2 685.5 149.2 685.5 L150.2 685.5 151.2 685.5 L152.2 685.5 153.2 685.5 L154.2 685.5 155.2 685.5 L156.2 685.5 157.2 685.5 L158.2 685.5 159.2 685.5 L160.2 685.5 161.2 685.5 L162.2 685.5 163.2 685.5 L164.2 685.5 165.2 685.5 L166.2 682.5 167.2 673.0 L168.2 663.6 169.2 654.3 L170.2 645.0 171.2 635.9 L172.2 626.9 173.2 618.2 L174.2 610.1 175.2 603.0 L176.2 598.1 177.2 597.2 L178.2 600.7 179.2 607.1 L180.2 614.9 181.2 623.4 L182.2 632.3 183.2 641.3 L184.2 650.6 185.2 659.3 L186.2 663.8 187.2 668.4 L188.2 670.3 189.2 665.6 L190.2 660.8 191.2 656.2 L192.2 651.6 193.2 647.4 L194.2 643.6 195.2 640.8 L196.2 639.8 197.2 641.2 L198.2 644.3 199.2 648.2 L200.2 652.5 201.2 657.1 L202.2 661.8 203.2 666.5 L204.2 671.3 205.2 676.1 L206.2 681.0 207.2 685.5 L208.2 685.5 209.2 685.5 L210.2 685.5 211.2 685.5 L212.2 685.5 213.2 685.5 L214.2 685.5 215.2 685.5 L216.2 685.5 217.2 685.5 L218.2 685.5 219.2 685.5 L220.2 685.5 221.2 685.5 L222.2 677.4 223.2 667.1 L224.2 656.8 225.2 646.6 L226.2 636.5 227.2 626.7 L228.2 617.2 229.2 608.4 L230.2 600.9 231.2 596.3 L232.2 596.3 233.2 600.9 L234.2 608.4 235.2 617.2 L236.2 626.7 237.2 636.5 L238.2 646.6 239.2 656.8 L240.2 667.1 241.2 677.4 L242.2 685.5 243.2 685.5 L244.2 685.5 245.2 685.5 L246.2 685.5 247.2 685.5 L248.2 685.5 249.2 685.5 L250.2 685.5 251.2 685.5 L252.2 685.5 253.2 685.5 L254.2 685.5 255.2 685.5 L256.2 685.5 257.2 685.5 L258.2 685.5 259.2 685.5 L260.2 685.5 261.2 685.5 L262.2 685.5 263.2 685.5 L264.2 685.5 265.2 685.5 L266.2 685.5 267.2 685.5 L268.2 685.5 269.2 685.5 L270.2 685.5 271.2 685.5 L272.2 685.5 273.2 685.5 L274.2 685.5 275.2 685.5 L276.2 685.5 277.2 685.5 L278.2 685.5 279.2 685.5 L280.2 685.5 281.2 685.5 L282.2 685.5 283.2 685.5 L284.2 685.5 285.2 685.5 L286.2 685.5 287.2 685.5 L288.2 685.5 289.2 685.5 L290.2 685.5 291.2 685.5 L292.2 685.5 293.2 685.5 L294.2 685.5 295.2 685.5 L296.2 685.5 297.2 685.5 L298.2 685.5 299.2 685.5 L300.2 685.5 301.2 685.5 L302.2 685.5 303.2 685.5 L304.2 685.5 305.2 685.5 L306.2 685.5 307.2 685.5 L308.2 685.5 309.2 685.5 L310.2 685.5 311.2 685.5 L312.2 685.5 313.2 685.5 L314.2 685.5 315.2 685.5 L316.2 685.5 317.2 683.1 L318.2 675.4 319.2 667.9 L320.2 660.3 321.2 652.8 L322.2 645.5 323.2 638.2 L324.2 631.2 325.2 624.7 L326.2 618.9 327.2 615.0 L328.2 614.3 329.2 617.1 L330.2 622.2 331.2 628.5 L332.2 635.4 333.2 642.5 L334.2 649.9 335.2 657.3 L336.2 663.1 337.2 662.6 L338.2 662.1 339.2 659.6 L340.2 651.7 341.2 643.9 L342.2 636.2 343.2 628.8 L344.2 621.7 345.2 615.6 L346.2 611.2 347.2 610.0 L348.2 612.6 349.2 617.9 L350.2 624.5 351.2 631.7 L352.2 639.2 353.2 647.0 L354.2 654.9 355.2 662.8 L356.2 670.8 357.2 678.9 L358.2 685.5 359.2 685.5 L360.2 685.5 361.2 685.5 L362.2 685.5 363.2 685.5 L364.2 685.5 365.2 685.5 L366.2 685.5 367.2 685.5 L368.2 685.5 369.2 685.5 L370.2 685.5 371.2 685.5 L372.2 685.5 373.2 685.5 L374.2 684.3 375.2 670.2 L376.2 656.1 377.2 642.1 L378.2 628.1 379.2 614.2 L380.2 600.5 381.2 586.9 L382.2 573.7 383.2 561.1 L384.2 549.7 385.2 540.5 L386.2 535.8 387.2 537.9 L388.2 545.6 389.2 556.4 L390.2 568.6 391.2 581.6 L392.2 595.0 393.2 608.7 L394.2 622.5 395.2 636.5 L396.2 650.5 397.2 664.6 L398.2 678.7 399.2 685.5 L400.2 685.5 401.2 685.5 L402.2 685.5 403.2 685.5 L404.2 685.5 405.2 685.5 L406.2 685.5 407.2 685.5 L408.2 685.5 409.2 685.5 L410.2 685.5 411.2 685.5 L412.2 685.5 413.2 685.5 L414.2 685.5 415.2 685.5 L416.2 685.5 417.2 685.5 L418.2 685.5 419.2 685.5 L420.2 685.5 421.2 685.5 L422.2 685.5 423.2 685.5 L424.2 685.5 425.2 685.5 L426.2 685.5 427.2 685.5 L428.2 685.5 429.2 685.5 L430.2 685.5 431.2 685.5 L432.2 679.1 433.2 669.5 L434.2 660.0 435.2 650.5 L436.2 641.2 437.2 632.1 L438.2 623.3 439.2 615.3 L440.2 608.8 441.2 605.2 L442.2 606.2 443.2 611.2 L444.2 618.4 445.2 626.8 L446.2 635.7 447.2 644.9 L448.2 654.3 449.2 663.8 L450.2 673.4 451.2 683.0 L452.2 685.5 453.2 685.5 L454.2 685.5 455.2 685.5 L456.2 685.5 457.2 685.5 L458.2 685.5 459.2 685.5 L460.2 685.5 461.2 685.5 L462.2 685.5 463.2 685.5 L464.2 685.5 465.2 685.5 L466.2 685.5 467.2 685.5 L468.2 681.6 469.2 672.6 L470.2 663.6 471.2 654.7 L472.2 645.9 473.2 637.4 L474.2 629.2 475.2 621.6 L476.2 615.5 477.2 612.1 L478.2 613.0 479.2 617.7 L480.2 624.5 481.2 632.4 L482.2 640.7 483.2 649.4 L484.2 658.2 485.2 667.2 L486.2 676.2 487.2 685.3 L488.2 685.5 489.2 685.5 L490.2 685.5 491.2 685.5 L492.2 685.5 493.2 685.5 L494.2 685.5 495.2 685.5 L496.2 685.5 497.2 685.5 L498.2 685.5 499.2 685.5 L500.2 685.5 501.2 685.5 L502.2 685.5 503.2 685.5 L504.2 685.5 505.2 685.5 L506.2 685.5 507.2 683.5 L508.2 669.7 509.2 656.0 L510.2 642.3 511.2 628.8 L512.2 615.3 513.2 601.9 L514.2 588.8 515.2 576.1 L516.2 564.1 517.2 553.4 L518.2 545.5 519.2 542.8 L520.2 546.7 521.2 555.4 L522.2 566.4 523.2 578.6 L524.2 591.4 525.2 604.6 L526.2 617.9 527.2 631.5 L528.2 645.1 529.2 658.8 L530.2 672.5 531.2 685.5 L532.2 685.5 533.2 685.5 L534.2 685.5 535.2 685.5 L536.2 685.5 537.2 685.5 L538.2 685.5 539.2 685.5 L540.2 685.5 541.2 685.5 L542.2 685.5 543.2 685.5 L544.2 685.5 545.2 685.5 L546.2 685.5 547.2 685.5 L548.2 685.5 549.2 685.5 L550.2 685.5 551.2 685.5 L552.2 685.5 553.2 685.5 L554.2 685.5 555.2 685.5 L556.2 685.5 557.2 685.5 L558.2 685.5 559.2 685.5 L560.2 685.5 561.2 685.5 L562.2 685.5 563.2 685.5 L564.2 685.5 565.2 685.5 L566.2 685.5 567.2 685.5 L568.2 685.5 569.2 685.5 L570.2 685.5 571.2 685.5 L572.2 685.5 573.2 685.5 L574.2 685.5 575.2 685.5 L576.2 685.5 577.2 685.5 L578.2 685.5 579.2 685.5 L580.2 685.5 581.2 685.5 L582.2 685.5 583.2 685.5 L584.2 685.5 585.2 685.5 L586.2 685.5 587.2 685.5 L588.2 685.5 589.2 685.5 L590.2 685.5 591.2 685.5 L592.2 685.5 593.2 685.5 L594.2 685.5 595.2 685.5 L596.2 685.5 597.2 685.5 L598.2 685.5 599.2 685.5 L600.2 685.5 601.2 685.5 L602.2 685.5 603.2 685.5 L604.2 685.5 605.2 685.5 L606.2 685.5 607.2 685.5 L608.2 685.5 609.2 685.5 L610.2 685.5 611.2 685.5 L612.2 685.5 613.2 685.5 L614.2 685.5 615.2 685.5 L616.2 685.5 617.2 685.5 L618.2 685.5 619.2 685.5 L620.2 685.5 621.2 685.5 L622.2 685.5 623.2 685.5 L624.2 685.5 625.2 685.5 L626.2 685.5 627.2 685.5 L628.2 685.5 629.2 685.5 L630.2 685.5 631.2 685.5 L632.2 685.5 633.2 685.5 L634.2 685.5 635.2 685.5 L636.2 685.5 637.2 685.5 L638.2 685.5 639.2 685.5 L640.2 685.5 641.2 685.5 L642.2 685.5 643.2 685.5 L644.2 685.5 645.2 685.5 L646.2 685.5 647.2 685.5 L648.2 685.5 649.2 685.5 L650.2 685.5 651.2 685.5 L652.2 685.5 653.2 685.5 L654.2 685.5 655.2 685.5 L656.2 685.5 657.2 685.5 L658.2 685.5 659.2 685.5 L660.2 685.5 661.2 685.5 L662.2 685.5 663.2 685.5 L664.2 685.5 665.2 685.5 L666.2 685.5 667.2 685.5 L668.2 685.5 669.2 685.5 L670.2 685.5 671.2 685.5 L672.2 685.5 673.2 685.5 L674.2 685.5 675.2 685.5 L676.2 685.5 677.2 685.5 L678.2 685.5 679.2 685.5 L680.2 685.5 681.2 685.5 L682.2 685.5 683.2 685.5 L684.2 685.5 685.2 685.5 L686.2 685.5 687.2 685.5 L688.2 685.5 689.2 685.5 L690.2 685.5 691.2 685.5 L692.2 685.5 693.2 685.5 L694.2 685.5 695.2 685.5 L696.2 685.5 697.2 685.5 L698.2 685.5 699.2 685.5 L700.2 685.5 701.2 685.5 L702.2 685.5 703.2 685.5 L704.2 685.5 705.2 685.5 L706.2 685.5 707.2 685.5 L708.2 685.5 709.2 685.5 L710.2 685.5 711.2 685.5 L712.2 685.5 713.2 685.5 L714.2 685.5 715.2 685.5 L716.2 685.5 717.2 685.5 L718.2 685.5 719.2 685.5 L720.2 685.5 721.2 685.5 L722.2 685.5 723.2 685.5 L724.2 685.5 725.2 685.5 L726.2 685.5 727.2 685.5 L728.2 685.5 729.2 685.5 L730.2 685.5 731.2 685.5 L732.2 685.5 733.2 685.5 L734.2 685.5 735.2 685.5 L736.2 685.5 737.2 685.5 L738.2 685.5 739.2 685.5 L740.2 685.5 741.2 685.5 L742.2 685.5 743.2 685.5 L744.2 685.5 745.2 685.5 L746.2 685.5 747.2 685.5 L748.2 685.5 749.2 685.5 L750.2 685.5 751.2 685.5 L752.2 685.5 753.2 685.5 L754.2 685.5 755.2 685.5 L756.2 685.5 757.2 685.5 L758.2 685.5 759.2 685.5 L760.2 685.5 761.2 685.5 L762.2 685.5 763.2 685.5 L764.2 685.5 765.2 685.5 L766.2 685.5 767.2 685.5 L768.2 685.5 769.2 685.5 L770.2 685.5 771.2 685.5 L772.2 685.5 773.2 685.5 L774.2 685.5 775.2 685.5 L776.2 685.5 777.2 682.8 L778.2 674.3 779.2 665.9 L780.2 657.5 781.2 649.2 L782.2 640.9 783.2 632.9 L784.2 625.2 785.2 618.0 L786.2 611.9 787.2 608.1 L788.2 608.1 789.2 611.9 L790.2 618.0 791.2 625.2 L792.2 632.9 793.2 640.9 L794.2 649.2 795.2 657.5 L796.2 660.2 797.2 660.7 L798.2 661.3 799.2 656.1 L800.2 648.4 801.2 640.8 L802.2 633.4 803.2 626.3 L804.2 620.0 805.2 615.2 L806.2 613.3 807.2 615.2 L808.2 620.0 809.2 626.3 L810.2 633.4 811.2 640.8 L812.2 648.4 813.2 656.1 L814.2 664.0 815.2 667.7 L816.2 665.7 817.2 661.5 L818.2 651.6 819.2 641.9 L820.2 632.3 821.2 622.9 L822.2 613.8 823.2 605.5 L824.2 598.6 825.2 594.5 L826.2 595.0 827.2 599.8 L828.2 607.1 829.2 615.6 L830.2 624.7 831.2 634.2 L832.2 643.8 833.2 653.6 L834.2 663.5 835.2 673.4 L836.2 683.3 837.2 685.5 L838.2 685.5 839.2 685.5 L840.2 685.5 841.2 685.5 L842.2 685.5 843.2 685.5 L844.2 685.5 845.2 685.5 L846.2 685.5 847.2 685.5 L848.2 685.5 849.2 685.5 L850.2 685.5 851.2 685.5 L852.2 685.5 853.2 685.5 L854.2 685.5 855.2 685.5 L856.2 685.5 857.2 685.5 L858.2 685.5 859.2 685.5 L860.2 685.5 861.2 685.5 L862.2 685.5 863.2 685.5 L864.2 685.5 865.2 685.5 L866.2 685.5 867.2 685.5 L868.2 685.5 869.2 685.5 L870.2 685.5 871.2 685.5 L872.2 685.5 873.2 685.5 L874.2 685.5 875.2 685.5 L876.2 685.5 877.2 685.5 L878.2 685.5 879.2 685.5 L880.2 685.5 881.2 685.5 L882.2 685.5 883.2 685.5 L884.2 685.5 885.2 685.5 L886.2 685.5 887.2 685.5 L888.2 685.5 889.2 685.5 L890.2 685.5 891.2 685.5 L892.2 685.5 893.2 685.5 L894.2 685.5 895.2 685.5 L896.2 685.5 897.2 685.5 L898.2 685.5 899.2 685.5 L900.2 685.5 901.2 685.5 L902.2 685.5 903.2 685.5 L904.2 685.5 905.2 685.5 L906.2 685.5 907.2 685.5 L908.2 685.5 909.2 685.5 L910.2 685.5 911.2 685.5 L912.2 685.5 913.2 685.5 L914.2 685.5 915.2 685.5 L916.2 685.5 917.2 685.5 L918.2 685.5 919.2 685.5 L920.2 685.5 921.2 685.5 L922.2 685.5 923.2 685.5 L924.2 685.5 925.2 685.5 L926.2 685.5 927.2 685.5 L928.2 685.5 929.2 685.5 L930.2 685.5 931.2 685.5 L932.2 685.5 933.2 685.5 L934.2 685.5 935.2 685.5 L936.2 685.5 937.2 685.5 L938.2 685.5 939.2 685.5 L940.2 685.5 941.2 685.5 L942.2 685.5 943.2 685.5 L944.2 685.5 945.2 685.5 L946.2 685.5 947.2 685.5 L948.2 685.5 949.2 685.5 L950.2 685.5 951.2 685.5 L952.2 685.5 953.2 685.5 L954.2 685.5 955.2 685.5 L956.2 685.5 957.2 685.5 L958.2 685.5 959.2 685.5 L960.2 685.5 961.2 685.5 L962.2 685.5 963.2 685.5 L964.2 685.5 965.2 685.5 L966.2 685.5 967.2 685.5 L968.2 685.5 969.2 685.5 L970.2 685.5 971.2 685.5 L972.2 685.5 973.2 685.5 L974.2 685.5 975.2 685.5 L976.2 685.5 977.2 685.5 L978.2 685.5 979.2 685.5 L980.2 685.5 981.2 685.5 L982.2 685.5 983.2 685.5 L984.2 685.5 985.2 685.5 L986.2 685.5 987.2 685.5 L988.2 685.5 989.2 685.5 L990.2 685.5 991.2 685.5 L992.2 685.5 993.2 685.5 L994.2 685.5 995.2 685.5 L996.2 685.5 997.2 685.5 L998.2 685.5 999.2 685.5 L1000.2 685.5 1001.2 685.5 L1002.2 685.5 1003.2 685.5 L1004.2 685.5 1005.2 685.5 L1006.2 685.5 1007.2 685.5 L1008.2 685.5 1009.2 685.5 L1010.2 685.5 1011.2 685.5 L1012.2 685.5 1013.2 685.5 L1014.2 685.5 1015.2 685.5 L1016.2 685.5 1017.2 685.5 L1018.2 685.5 1019.2 685.5 L1020.2 685.5 1021.2 685.5 L1022.2 685.5 1023.2 685.5 L1024.2 685.5 1025.2 685.5 L1026.2 685.5 1027.2 685.5 L1028.2 685.5 1029.2 685.5 L1030.2 685.5 1031.2 685.5 L1032.2 685.5 1033.2 685.5 L1034.2 685.5 1035.2 685.5 L1036.2 685.5 1037.2 685.5 L1038.2 685.5 1039.2 685.5 L1040.2 685.5 1041.2 685.5 L1042.2 685.5 1043.2 685.5 L1044.2 685.5 1045.2 685.5 L1046.2 685.5 1047.2 685.5 L1048.2 685.5 1049.2 685.5 L1052.6 685.5 L1052.6 685.5" fill="rgba(110,190,90,0.14)" stroke="rgb(94,188,76)" stroke-width="2" stroke-linejoin="round"/>
<path d="M9.2 685.5 L9.2 685.5 L12.2 685.5 13.2 685.5 L14.2 685.5 15.2 685.5 L16.2 685.5 17.2 685.5 L18.2 685.5 19.2 685.5 L20.2 685.5 21.2 685.5 L22.2 685.5 23.2 685.5 L24.2 685.5 25.2 685.5 L26.2 685.5 27.2 685.5 L28.2 685.5 29.2 685.5 L30.2 685.5 31.2 685.5 L32.2 685.5 33.2 685.5 L34.2 685.5 35.2 685.5 L36.2 685.5 37.2 685.5 L38.2 685.5 39.2 685.5 L40.2 685.5 41.2 685.5 L42.2 685.5 43.2 685.5 L44.2 685.5 45.2 685.5 L46.2 685.5 47.2 685.5 L48.2 685.5 49.2 685.5 L50.2 685.5 51.2 675.7 L52.2 664.9 53.2 654.1 L54.2 643.4 55.2 632.9 L56.2 622.5 57.2 612.5 L58.2 603.2 59.2 595.2 L60.2 590.0 61.2 589.4 L62.2 593.9 63.2 601.5 L64.2 610.6 65.2 620.5 L66.2 630.8 67.2 641.3 L68.2 652.0 69.2 662.7 L70.2 673.6 71.2 684.5 L72.2 685.5 73.2 685.5 L74.2 685.5 75.2 685.5 L76.2 685.5 77.2 685.5 L78.2 685.5 79.2 685.5 L80.2 685.5 81.2 685.5 L82.2 685.5 83.2 685.5 L84.2 685.5 85.2 685.5 L86.2 685.5 87.2 685.5 L88.2 682.0 89.2 670.4 L90.2 658.9 91.2 647.6 L92.2 636.3 93.2 625.3 L94.2 614.6 95.2 604.6 L96.2 595.9 97.2 589.9 L98.2 588.8 99.2 593.1 L100.2 600.9 101.2 610.5 L102.2 620.9 103.2 631.9 L104.2 643.0 105.2 654.4 L106.2 665.8 107.2 666.3 L108.2 663.4 109.2 652.5 L110.2 641.6 111.2 631.0 L112.2 620.7 113.2 610.9 L114.2 602.1 115.2 595.4 L116.2 592.7 117.2 595.4 L118.2 602.1 119.2 610.9 L120.2 620.7 121.2 631.0 L122.2 641.6 123.2 652.5 L124.2 663.4 125.2 674.4 L126.2 685.5 127.2 685.5 L128.2 685.5 129.2 685.5 L130.2 685.5 131.2 685.5 L132.2 685.5 133.2 685.5 L134.2 685.5 135.2 685.5 L136.2 685.5 137.2 685.5 L138.2 685.5 139.2 685.5 L140.2 685.5 141.2 685.5 L142.2 685.5 143.2 685.5 L144.2 685.5 145.2 685.5 L146.2 685.5 147.2 685.4 L148.2 675.6 149.2 665.8 L150.2 656.1 151.2 646.6 L152.2 637.2 153.2 628.0 L154.2 619.4 155.2 611.6 L156.2 605.7 157.2 603.3 L158.2 605.7 159.2 611.6 L160.2 619.4 161.2 628.0 L162.2 637.2 163.2 646.6 L164.2 656.1 165.2 665.8 L166.2 675.6 167.2 685.4 L168.2 685.5 169.2 685.5 L170.2 685.5 171.2 685.5 L172.2 685.5 173.2 685.5 L174.2 685.5 175.2 685.5 L176.2 685.5 177.2 685.5 L178.2 685.5 179.2 685.5 L180.2 685.5 181.2 685.5 L182.2 685.5 183.2 685.5 L184.2 685.5 185.2 685.5 L186.2 685.5 187.2 685.5 L188.2 685.5 189.2 685.5 L190.2 685.5 191.2 685.5 L192.2 685.5 193.2 685.5 L194.2 685.5 195.2 685.5 L196.2 685.5 197.2 685.5 L198.2 685.5 199.2 685.5 L200.2 685.5 201.2 685.5 L202.2 675.2 203.2 662.8 L204.2 650.5 205.2 638.3 L206.2 626.2 207.2 614.3 L208.2 602.7 209.2 591.5 L210.2 581.2 211.2 572.6 L212.2 567.5 213.2 568.1 L214.2 574.1 215.2 583.1 L216.2 593.7 217.2 605.0 L218.2 616.7 219.2 628.7 L220.2 640.8 221.2 653.0 L222.2 665.3 223.2 677.6 L224.2 685.5 225.2 685.5 L226.2 685.5 227.2 685.5 L228.2 685.5 229.2 685.5 L230.2 685.5 231.2 685.5 L232.2 685.5 233.2 685.5 L234.2 685.5 235.2 685.5 L236.2 685.5 237.2 685.5 L238.2 685.5 239.2 685.5 L240.2 678.9 241.2 668.2 L242.2 657.5 243.2 647.0 L244.2 636.5 245.2 626.3 L246.2 616.4 247.2 607.1 L248.2 598.9 249.2 593.0 L250.2 591.4 251.2 594.9 L252.2 601.9 253.2 610.7 L254.2 620.3 255.2 630.4 L256.2 640.7 257.2 651.2 L258.2 661.8 259.2 672.4 L260.2 683.2 261.2 685.5 L262.2 685.5 263.2 685.5 L264.2 685.5 265.2 685.5 L266.2 685.5 267.2 685.5 L268.2 685.5 269.2 685.5 L270.2 685.5 271.2 685.5 L272.2 685.5 273.2 685.5 L274.2 685.5 275.2 685.5 L276.2 685.5 277.2 685.5 L278.2 685.5 279.2 685.5 L280.2 685.5 281.2 685.5 L282.2 685.5 283.2 685.5 L284.2 685.5 285.2 685.5 L286.2 685.5 287.2 685.5 L288.2 685.5 289.2 685.5 L290.2 685.5 291.2 685.5 L292.2 685.5 293.2 685.5 L294.2 685.5 295.2 685.5 L296.2 685.5 297.2 685.5 L298.2 685.5 299.2 685.5 L300.2 677.7 301.2 666.8 L302.2 656.0 303.2 645.2 L304.2 634.6 305.2 624.2 L306.2 614.1 307.2 604.6 L308.2 596.2 309.2 590.2 L310.2 588.6 311.2 592.2 L312.2 599.3 313.2 608.3 L314.2 618.1 315.2 628.3 L316.2 638.8 317.2 649.5 L318.2 660.3 319.2 671.2 L320.2 682.1 321.2 685.5 L322.2 685.5 323.2 685.5 L324.2 685.5 325.2 685.5 L326.2 685.5 327.2 685.5 L328.2 685.5 329.2 685.5 L330.2 685.5 331.2 685.5 L332.2 685.5 333.2 685.5 L334.2 685.5 335.2 685.5 L336.2 685.5 337.2 685.5 L338.2 685.5 339.2 685.5 L340.2 685.5 341.2 685.5 L342.2 685.5 343.2 685.5 L344.2 685.5 345.2 685.5 L346.2 685.5 347.2 685.5 L348.2 685.5 349.2 685.5 L350.2 685.5 351.2 685.5 L352.2 685.5 353.2 685.5 L354.2 685.5 355.2 685.5 L356.2 685.5 357.2 685.5 L358.2 685.5 359.2 685.5 L360.2 685.5 361.2 685.5 L362.2 685.5 363.2 685.5 L364.2 685.5 365.2 685.5 L366.2 685.5 367.2 685.5 L368.2 685.5 369.2 685.5 L370.2 685.5 371.2 685.5 L372.2 685.5 373.2 685.5 L374.2 685.5 375.2 685.5 L376.2 685.5 377.2 685.5 L378.2 685.5 379.2 685.5 L380.2 685.5 381.2 685.5 L382.2 685.5 383.2 685.5 L384.2 685.5 385.2 685.5 L386.2 685.5 387.2 685.5 L388.2 685.5 389.2 685.5 L390.2 685.5 391.2 685.5 L392.2 685.5 393.2 685.5 L394.2 685.5 395.2 685.5 L396.2 685.5 397.2 685.5 L398.2 685.5 399.2 685.5 L400.2 685.5 401.2 685.5 L402.2 685.5 403.2 685.5 L404.2 685.5 405.2 685.5 L406.2 685.5 407.2 685.5 L408.2 685.5 409.2 685.5 L410.2 685.5 411.2 685.5 L412.2 685.5 413.2 679.2 L414.2 669.1 415.2 659.1 L416.2 649.3 417.2 639.5 L418.2 630.0 419.2 620.8 L420.2 612.3 421.2 605.0 L422.2 600.5 423.2 600.5 L424.2 605.0 425.2 612.3 L426.2 620.8 427.2 630.0 L428.2 639.5 429.2 649.3 L430.2 659.1 431.2 669.1 L432.2 679.2 433.2 685.5 L434.2 685.5 435.2 685.5 L436.2 685.5 437.2 685.5 L438.2 685.5 439.2 685.5 L440.2 685.5 441.2 685.5 L442.2 685.5 443.2 685.5 L444.2 685.5 445.2 685.5 L446.2 685.5 447.2 685.5 L448.2 682.8 449.2 672.3 L450.2 661.8 451.2 651.3 L452.2 641.0 453.2 630.8 L454.2 620.9 455.2 611.5 L456.2 603.0 457.2 596.3 L458.2 593.3 459.2 595.4 L460.2 601.5 461.2 609.7 L462.2 619.0 463.2 628.8 L464.2 639.0 465.2 649.3 L466.2 659.7 467.2 670.2 L468.2 680.7 469.2 685.5 L470.2 685.5 471.2 685.5 L472.2 685.5 473.2 685.5 L474.2 685.5 475.2 685.5 L476.2 685.5 477.2 685.5 L478.2 685.5 479.2 685.5 L480.2 685.5 481.2 685.5 L482.2 685.5 483.2 685.5 L484.2 685.5 485.2 685.5 L486.2 685.5 487.2 685.5 L488.2 685.5 489.2 685.5 L490.2 685.5 491.2 685.5 L492.2 685.5 493.2 685.5 L494.2 685.5 495.2 685.5 L496.2 685.5 497.2 685.5 L498.2 685.5 499.2 685.5 L500.2 685.5 501.2 685.5 L502.2 685.5 503.2 685.5 L504.2 685.5 505.2 685.5 L506.2 685.5 507.2 685.5 L508.2 685.5 509.2 685.5 L510.2 685.5 511.2 685.5 L512.2 685.5 513.2 685.5 L514.2 685.5 515.2 685.5 L516.2 685.5 517.2 685.5 L518.2 685.5 519.2 685.5 L520.2 685.5 521.2 685.5 L522.2 685.5 523.2 685.5 L524.2 685.5 525.2 685.5 L526.2 685.5 527.2 685.5 L528.2 685.5 529.2 685.5 L530.2 685.5 531.2 685.5 L532.2 685.5 533.2 685.5 L534.2 685.5 535.2 685.5 L536.2 685.5 537.2 685.5 L538.2 685.5 539.2 685.5 L540.2 685.5 541.2 685.5 L542.2 685.5 543.2 685.5 L544.2 685.5 545.2 685.5 L546.2 685.5 547.2 685.5 L548.2 685.5 549.2 685.5 L550.2 685.5 551.2 685.5 L552.2 685.5 553.2 685.5 L554.2 685.5 555.2 685.5 L556.2 685.5 557.2 685.5 L558.2 685.5 559.2 685.5 L560.2 685.5 561.2 685.5 L562.2 685.5 563.2 685.5 L564.2 685.5 565.2 685.5 L566.2 685.5 567.2 685.5 L568.2 685.5 569.2 685.5 L570.2 685.5 571.2 685.5 L572.2 685.5 573.2 685.5 L574.2 685.5 575.2 685.5 L576.2 685.5 577.2 685.5 L578.2 685.5 579.2 685.5 L580.2 685.5 581.2 685.5 L582.2 685.5 583.2 685.5 L584.2 685.5 585.2 685.5 L586.2 685.5 587.2 685.5 L588.2 685.5 589.2 685.5 L590.2 685.5 591.2 685.5 L592.2 685.5 593.2 685.5 L594.2 685.5 595.2 685.5 L596.2 685.5 597.2 685.5 L598.2 685.5 599.2 685.5 L600.2 685.5 601.2 685.5 L602.2 685.5 603.2 685.5 L604.2 685.5 605.2 685.5 L606.2 685.5 607.2 685.5 L608.2 685.5 609.2 685.5 L610.2 685.5 611.2 685.5 L612.2 685.5 613.2 685.5 L614.2 685.5 615.2 685.5 L616.2 685.5 617.2 685.5 L618.2 685.5 619.2 685.5 L620.2 685.5 621.2 685.5 L622.2 685.5 623.2 685.5 L624.2 685.5 625.2 685.5 L626.2 685.5 627.2 685.5 L628.2 685.5 629.2 685.5 L630.2 685.5 631.2 685.5 L632.2 685.5 633.2 685.5 L634.2 685.5 635.2 685.5 L636.2 685.5 637.2 685.5 L638.2 685.5 639.2 685.5 L640.2 685.5 641.2 685.5 L642.2 685.5 643.2 685.5 L644.2 685.5 645.2 685.5 L646.2 685.5 647.2 685.5 L648.2 685.5 649.2 685.5 L650.2 685.5 651.2 685.5 L652.2 685.5 653.2 685.5 L654.2 685.5 655.2 685.5 L656.2 685.5 657.2 685.5 L658.2 685.5 659.2 685.5 L660.2 685.5 661.2 685.5 L662.2 684.5 663.2 674.7 L664.2 665.0 665.2 655.4 L666.2 645.8 667.2 636.5 L668.2 627.4 669.2 618.8 L670.2 611.2 671.2 605.5 L672.2 603.6 673.2 606.4 L674.2 612.6 675.2 620.5 L676.2 629.2 677.2 638.3 L678.2 647.7 679.2 657.3 L680.2 666.9 681.2 676.7 L682.2 685.5 683.2 685.5 L684.2 685.5 685.2 685.5 L686.2 685.5 687.2 685.5 L688.2 685.5 689.2 685.5 L690.2 685.5 691.2 685.5 L692.2 685.5 693.2 685.5 L694.2 685.5 695.2 685.5 L696.2 685.5 697.2 685.5 L698.2 685.5 699.2 685.5 L700.2 685.5 701.2 685.5 L702.2 685.5 703.2 685.5 L704.2 685.5 705.2 685.5 L706.2 685.5 707.2 685.5 L708.2 685.5 709.2 685.5 L710.2 685.5 711.2 685.5 L712.2 685.5 713.2 685.5 L714.2 685.5 715.2 685.5 L716.2 685.5 717.2 685.5 L718.2 685.5 719.2 685.5 L720.2 685.5 721.2 685.5 L722.2 685.5 723.2 685.5 L724.2 685.5 725.2 685.5 L726.2 685.5 727.2 685.5 L728.2 685.5 729.2 685.5 L730.2 685.5 731.2 685.5 L732.2 685.5 733.2 685.5 L734.2 685.5 735.2 685.5 L736.2 685.5 737.2 685.5 L738.2 684.5 739.2 677.2 L740.2 669.8 741.2 662.5 L742.2 655.2 743.2 648.0 L744.2 640.8 745.2 633.9 L746.2 627.2 747.2 620.9 L748.2 615.7 749.2 612.4 L750.2 612.4 751.2 615.7 L752.2 620.9 753.2 627.2 L754.2 633.9 755.2 640.8 L756.2 648.0 757.2 655.2 L758.2 662.5 759.2 661.6 L760.2 659.1 761.2 656.6 L762.2 647.8 763.2 638.1 L764.2 628.6 765.2 619.2 L766.2 610.1 767.2 601.5 L768.2 593.9 769.2 588.5 L770.2 587.1 771.2 590.3 L772.2 596.8 773.2 604.8 L774.2 613.7 775.2 622.9 L776.2 632.4 777.2 642.0 L778.2 651.7 779.2 661.5 L780.2 671.4 781.2 681.3 L782.2 685.5 783.2 685.5 L784.2 685.5 785.2 685.5 L786.2 685.5 787.2 685.5 L788.2 685.5 789.2 685.5 L790.2 685.5 791.2 685.5 L792.2 685.5 793.2 685.5 L794.2 685.5 795.2 685.5 L796.2 685.5 797.2 685.5 L798.2 685.5 799.2 685.5 L800.2 685.5 801.2 685.5 L802.2 685.5 803.2 685.5 L804.2 685.5 805.2 685.5 L806.2 685.5 807.2 685.5 L808.2 685.5 809.2 685.5 L810.2 685.5 811.2 685.5 L812.2 685.5 813.2 685.5 L814.2 685.5 815.2 685.5 L816.2 685.5 817.2 685.5 L818.2 685.5 819.2 685.5 L820.2 685.5 821.2 685.5 L822.2 685.5 823.2 685.5 L824.2 685.5 825.2 685.5 L826.2 685.5 827.2 685.5 L828.2 685.5 829.2 685.5 L830.2 685.5 831.2 685.5 L832.2 685.5 833.2 685.5 L834.2 683.5 835.2 673.2 L836.2 663.1 837.2 653.0 L838.2 643.0 839.2 633.2 L840.2 623.6 841.2 614.6 L842.2 606.5 843.2 600.3 L844.2 597.8 845.2 600.3 L846.2 606.5 847.2 614.6 L848.2 623.6 849.2 633.2 L850.2 643.0 851.2 653.0 L852.2 663.1 853.2 673.2 L854.2 683.5 855.2 685.5 L856.2 685.5 857.2 685.5 L858.2 685.5 859.2 685.5 L860.2 685.5 861.2 685.5 L862.2 685.5 863.2 685.5 L864.2 685.5 865.2 685.5 L866.2 685.5 867.2 685.5 L868.2 685.5 869.2 685.5 L870.2 685.5 871.2 685.5 L872.2 685.5 873.2 685.5 L874.2 685.5 875.2 685.5 L876.2 685.5 877.2 685.5 L878.2 685.5 879.2 685.5 L880.2 685.5 881.2 685.5 L882.2 685.5 883.2 685.5 L884.2 685.5 885.2 685.5 L886.2 685.5 887.2 685.5 L888.2 685.5 889.2 685.5 L890.2 685.5 891.2 685.5 L892.2 685.5 893.2 685.5 L894.2 678.5 895.2 669.2 L896.2 659.9 897.2 650.8 L898.2 641.7 899.2 633.0 L900.2 624.6 901.2 617.0 L902.2 611.1 903.2 608.4 L904.2 610.3 905.2 615.7 L906.2 623.0 907.2 631.2 L908.2 640.0 909.2 648.9 L910.2 658.1 911.2 667.3 L912.2 676.7 913.2 685.5 L914.2 685.5 915.2 685.5 L916.2 685.5 917.2 685.5 L918.2 685.5 919.2 685.5 L920.2 685.5 921.2 685.5 L922.2 685.5 923.2 685.5 L924.2 685.5 925.2 685.5 L926.2 685.5 927.2 685.5 L928.2 685.5 929.2 685.5 L930.2 685.5 931.2 685.5 L932.2 685.5 933.2 685.5 L934.2 685.5 935.2 685.5 L936.2 685.5 937.2 685.5 L938.2 685.5 939.2 685.5 L940.2 685.5 941.2 685.5 L942.2 685.5 943.2 685.5 L944.2 685.5 945.2 685.5 L946.2 685.5 947.2 685.5 L948.2 685.5 949.2 685.5 L950.2 685.5 951.2 685.5 L952.2 685.5 953.2 685.5 L954.2 685.5 955.2 685.5 L956.2 685.5 957.2 685.5 L958.2 685.5 959.2 685.5 L960.2 685.5 961.2 685.5 L962.2 685.5 963.2 685.5 L964.2 685.5 965.2 685.5 L966.2 685.5 967.2 685.5 L968.2 685.5 969.2 685.5 L970.2 685.5 971.2 685.5 L972.2 685.5 973.2 685.5 L974.2 685.5 975.2 685.5 L976.2 685.5 977.2 685.5 L978.2 685.5 979.2 685.5 L980.2 685.5 981.2 685.5 L982.2 685.5 983.2 685.5 L984.2 685.5 985.2 685.5 L986.2 685.5 987.2 685.5 L988.2 685.5 989.2 685.5 L990.2 685.5 991.2 685.5 L992.2 685.5 993.2 685.5 L994.2 685.5 995.2 685.5 L996.2 685.5 997.2 685.5 L998.2 685.5 999.2 685.5 L1000.2 685.5 1001.2 685.5 L1002.2 685.5 1003.2 685.5 L1004.2 685.5 1005.2 685.5 L1006.2 685.5 1007.2 685.5 L1008.2 685.5 1009.2 685.5 L1010.2 685.5 1011.2 685.5 L1012.2 685.5 1013.2 685.5 L1014.2 685.5 1015.2 685.5 L1016.2 685.5 1017.2 685.5 L1018.2 685.5 1019.2 685.5 L1020.2 685.5 1021.2 685.5 L1022.2 685.5 1023.2 685.5 L1024.2 685.5 1025.2 685.5 L1026.2 685.5 1027.2 685.5 L1028.2 685.5 1029.2 685.5 L1030.2 685.5 1031.2 684.6 L1032.2 674.4 1033.2 664.4 L1034.2 654.4 1035.2 644.5 L1036.2 634.9 1037.2 625.7 L1038.2 617.3 1039.2 610.4 L1040.2 606.6 1041.2 607.6 L1042.2 612.9 1043.2 620.6 L1044.2 629.4 1045.2 638.7 L1046.2 648.5 1047.2 658.4 L1048.2 668.4 1049.2 678.5 L1052.6 678.5 L1052.6 685.5" fill="rgba(90,140,225,0.16)" stroke="rgb(52,112,214)" stroke-width="2" stroke-linejoin="round"/>
<path d="M9.2 685.5 L9.2 686.3 L12.2 686.3 13.2 686.3 L14.2 686.3 15.2 686.3 L16.2 686.3 17.2 686.3 L18.2 686.3 19.2 686.2 L20.2 686.2 21.2 686.1 L22.2 686.0 23.2 685.8 L24.2 685.6 25.2 685.3 L26.2 685.0 27.2 684.7 L28.2 684.5 29.2 684.3 L30.2 684.3 31.2 684.4 L32.2 684.6 33.2 684.8 L34.2 685.1 35.2 685.4 L36.2 685.7 37.2 685.9 L38.2 686.1 39.2 686.2 L40.2 686.2 41.2 686.3 L42.2 686.3 43.2 686.3 L44.2 686.3 45.2 686.3 L46.2 686.3 47.2 686.3 L48.2 686.3 49.2 686.3 L50.2 686.3 51.2 686.3 L52.2 686.3 53.2 686.3 L54.2 686.3 55.2 686.3 L56.2 686.3 57.2 686.3 L58.2 686.3 59.2 686.3 L60.2 686.3 61.2 686.3 L62.2 686.3 63.2 686.3 L64.2 686.3 65.2 686.3 L66.2 686.3 67.2 686.3 L68.2 686.3 69.2 686.3 L70.2 686.3 71.2 686.3 L72.2 686.3 73.2 686.3 L74.2 686.3 75.2 686.3 L76.2 686.3 77.2 686.3 L78.2 686.3 79.2 686.3 L80.2 686.3 81.2 686.3 L82.2 686.3 83.2 686.3 L84.2 686.3 85.2 686.3 L86.2 686.3 87.2 686.3 L88.2 686.3 89.2 686.3 L90.2 686.3 91.2 686.3 L92.2 686.3 93.2 686.3 L94.2 686.3 95.2 686.3 L96.2 686.3 97.2 686.3 L98.2 686.3 99.2 686.3 L100.2 686.3 101.2 686.3 L102.2 686.3 103.2 686.3 L104.2 686.3 105.2 686.3 L106.2 686.3 107.2 686.3 L108.2 686.3 109.2 686.2 L110.2 686.2 111.2 686.1 L112.2 686.0 113.2 685.8 L114.2 685.6 115.2 685.3 L116.2 685.0 117.2 684.7 L118.2 684.5 119.2 684.3 L120.2 684.3 121.2 684.4 L122.2 684.6 123.2 684.8 L124.2 685.1 125.2 685.4 L126.2 685.7 127.2 676.5 L128.2 667.2 129.2 658.0 L130.2 648.8 131.2 639.7 L132.2 630.9 133.2 622.6 L134.2 615.2 135.2 609.7 L136.2 607.8 137.2 610.5 L138.2 616.5 139.2 624.2 L140.2 632.7 141.2 641.5 L142.2 650.7 143.2 660.0 L144.2 669.3 145.2 678.8 L146.2 686.3 147.2 686.3 L148.2 686.3 149.2 686.3 L150.2 686.3 151.2 686.3 L152.2 686.3 153.2 686.3 L154.2 686.3 155.2 686.3 L156.2 686.3 157.2 686.3 L158.2 686.3 159.2 686.3 L160.2 686.3 161.2 686.3 L162.2 686.3 163.2 686.3 L164.2 686.3 165.2 686.2 L166.2 686.2 167.2 686.1 L168.2 685.9 169.2 685.8 L170.2 685.6 171.2 685.3 L172.2 685.1 173.2 684.9 L174.2 684.8 175.2 684.8 L176.2 684.9 177.2 685.0 L178.2 685.2 179.2 685.4 L180.2 685.7 181.2 685.8 L182.2 686.0 183.2 686.1 L184.2 686.2 185.2 686.2 L186.2 686.3 187.2 686.3 L188.2 686.3 189.2 686.3 L190.2 686.3 191.2 686.3 L192.2 686.3 193.2 686.3 L194.2 686.3 195.2 686.3 L196.2 686.3 197.2 686.3 L198.2 686.3 199.2 686.3 L200.2 686.3 201.2 686.3 L202.2 686.3 203.2 686.3 L204.2 686.3 205.2 686.3 L206.2 686.3 207.2 686.3 L208.2 686.3 209.2 686.3 L210.2 686.3 211.2 686.3 L212.2 686.3 213.2 686.3 L214.2 686.3 215.2 686.3 L216.2 686.3 217.2 686.3 L218.2 686.3 219.2 686.3 L220.2 686.3 221.2 686.3 L222.2 686.3 223.2 686.3 L224.2 686.3 225.2 686.3 L226.2 686.3 227.2 686.3 L228.2 686.3 229.2 686.3 L230.2 686.3 231.2 686.3 L232.2 686.3 233.2 686.3 L234.2 686.3 235.2 686.3 L236.2 686.3 237.2 686.3 L238.2 686.3 239.2 686.3 L240.2 686.3 241.2 686.3 L242.2 686.3 243.2 686.3 L244.2 686.3 245.2 686.3 L246.2 686.3 247.2 686.3 L248.2 686.3 249.2 686.3 L250.2 686.3 251.2 686.3 L252.2 686.3 253.2 686.3 L254.2 686.3 255.2 686.3 L256.2 686.3 257.2 686.3 L258.2 686.3 259.2 686.3 L260.2 682.7 261.2 673.7 L262.2 664.8 263.2 656.0 L264.2 647.3 265.2 638.8 L266.2 630.6 267.2 623.2 L268.2 617.1 269.2 613.7 L270.2 614.6 271.2 619.3 L272.2 626.0 273.2 633.8 L274.2 642.1 275.2 650.7 L276.2 659.5 277.2 668.4 L278.2 677.3 279.2 686.3 L280.2 686.3 281.2 686.3 L282.2 686.3 283.2 686.3 L284.2 686.3 285.2 686.3 L286.2 686.3 287.2 686.3 L288.2 686.3 289.2 686.3 L290.2 686.3 291.2 686.3 L292.2 686.3 293.2 686.3 L294.2 686.3 295.2 686.3 L296.2 686.3 297.2 686.3 L298.2 686.3 299.2 686.3 L300.2 686.3 301.2 686.3 L302.2 686.3 303.2 686.3 L304.2 686.3 305.2 686.3 L306.2 686.3 307.2 686.3 L308.2 686.3 309.2 686.3 L310.2 686.3 311.2 686.3 L312.2 686.3 313.2 686.3 L314.2 686.3 315.2 686.3 L316.2 686.3 317.2 686.3 L318.2 686.3 319.2 686.3 L320.2 686.3 321.2 686.3 L322.2 686.3 323.2 686.3 L324.2 686.3 325.2 686.3 L326.2 686.3 327.2 686.3 L328.2 686.3 329.2 686.3 L330.2 686.3 331.2 686.3 L332.2 686.3 333.2 686.3 L334.2 686.3 335.2 686.3 L336.2 686.3 337.2 686.3 L338.2 686.3 339.2 686.3 L340.2 686.3 341.2 686.3 L342.2 686.3 343.2 686.3 L344.2 686.3 345.2 686.3 L346.2 686.3 347.2 686.3 L348.2 686.3 349.2 686.3 L350.2 686.3 351.2 686.3 L352.2 686.3 353.2 686.3 L354.2 686.3 355.2 686.3 L356.2 683.6 357.2 674.6 L358.2 665.7 359.2 656.8 L360.2 648.1 361.2 639.6 L362.2 631.4 363.2 623.9 L364.2 617.6 365.2 613.9 L366.2 614.3 367.2 618.7 L368.2 625.3 369.2 633.0 L370.2 641.3 371.2 649.9 L372.2 658.6 373.2 667.5 L374.2 676.4 375.2 685.4 L376.2 686.3 377.2 686.3 L378.2 686.3 379.2 686.3 L380.2 686.3 381.2 686.3 L382.2 686.3 383.2 686.3 L384.2 686.3 385.2 686.3 L386.2 686.3 387.2 686.3 L388.2 686.3 389.2 686.3 L390.2 686.3 391.2 686.3 L392.2 686.3 393.2 686.3 L394.2 686.3 395.2 686.3 L396.2 686.3 397.2 686.3 L398.2 686.3 399.2 686.3 L400.2 686.3 401.2 686.3 L402.2 686.3 403.2 686.3 L404.2 686.3 405.2 686.3 L406.2 686.3 407.2 686.3 L408.2 686.3 409.2 686.3 L410.2 686.3 411.2 686.3 L412.2 686.3 413.2 686.3 L414.2 686.3 415.2 686.3 L416.2 686.3 417.2 686.3 L418.2 686.3 419.2 686.3 L420.2 686.3 421.2 686.3 L422.2 686.3 423.2 686.3 L424.2 686.3 425.2 686.3 L426.2 686.3 427.2 686.3 L428.2 686.3 429.2 686.3 L430.2 686.3 431.2 686.3 L432.2 686.3 433.2 686.3 L434.2 686.3 435.2 686.3 L436.2 686.3 437.2 686.3 L438.2 686.3 439.2 686.3 L440.2 686.3 441.2 686.3 L442.2 686.3 443.2 686.3 L444.2 686.3 445.2 686.3 L446.2 686.3 447.2 686.3 L448.2 686.3 449.2 686.3 L450.2 686.3 451.2 686.3 L452.2 686.3 453.2 686.3 L454.2 686.3 455.2 686.3 L456.2 686.3 457.2 686.3 L458.2 686.3 459.2 686.3 L460.2 686.3 461.2 686.3 L462.2 686.3 463.2 686.3 L464.2 686.3 465.2 686.3 L466.2 686.3 467.2 686.3 L468.2 686.3 469.2 686.3 L470.2 686.3 471.2 686.3 L472.2 686.3 473.2 686.3 L474.2 686.3 475.2 686.3 L476.2 686.3 477.2 686.3 L478.2 686.3 479.2 686.3 L480.2 686.3 481.2 686.3 L482.2 686.3 483.2 686.3 L484.2 686.3 485.2 686.3 L486.2 686.3 487.2 682.9 L488.2 676.2 489.2 669.5 L490.2 662.8 491.2 656.3 L492.2 649.9 493.2 643.8 L494.2 638.4 495.2 634.1 L496.2 632.1 497.2 633.4 L498.2 637.4 499.2 642.7 L500.2 648.7 501.2 655.0 L502.2 661.5 503.2 668.1 L504.2 674.8 505.2 681.6 L506.2 686.3 507.2 686.3 L508.2 686.3 509.2 686.3 L510.2 686.3 511.2 686.3 L512.2 686.3 513.2 686.3 L514.2 686.3 515.2 686.3 L516.2 686.3 517.2 686.3 L518.2 686.3 519.2 686.3 L520.2 686.3 521.2 686.3 L522.2 686.3 523.2 686.3 L524.2 686.3 525.2 686.3 L526.2 686.3 527.2 686.3 L528.2 686.3 529.2 686.3 L530.2 686.3 531.2 686.3 L532.2 686.3 533.2 686.3 L534.2 686.3 535.2 686.3 L536.2 686.3 537.2 686.3 L538.2 686.3 539.2 686.3 L540.2 686.3 541.2 686.3 L542.2 686.3 543.2 686.3 L544.2 686.3 545.2 686.3 L546.2 686.3 547.2 686.3 L548.2 686.3 549.2 686.3 L550.2 686.3 551.2 686.3 L552.2 686.3 553.2 686.3 L554.2 686.3 555.2 686.3 L556.2 686.3 557.2 686.3 L558.2 686.3 559.2 686.3 L560.2 686.3 561.2 686.3 L562.2 686.3 563.2 686.3 L564.2 686.3 565.2 686.3 L566.2 686.3 567.2 686.3 L568.2 686.3 569.2 686.3 L570.2 686.3 571.2 686.3 L572.2 686.3 573.2 686.3 L574.2 686.3 575.2 686.3 L576.2 686.3 577.2 686.3 L578.2 686.3 579.2 686.3 L580.2 686.3 581.2 686.3 L582.2 686.3 583.2 686.3 L584.2 686.3 585.2 686.3 L586.2 686.3 587.2 686.3 L588.2 686.3 589.2 686.3 L590.2 686.3 591.2 686.3 L592.2 686.3 593.2 686.3 L594.2 686.3 595.2 686.3 L596.2 686.3 597.2 686.3 L598.2 686.3 599.2 686.3 L600.2 686.3 601.2 686.3 L602.2 686.3 603.2 678.4 L604.2 665.7 605.2 653.1 L606.2 640.6 607.2 628.2 L608.2 615.9 609.2 603.9 L610.2 592.5 611.2 581.8 L612.2 573.0 613.2 567.8 L614.2 568.4 615.2 574.6 L616.2 583.9 617.2 594.7 L618.2 606.3 619.2 618.3 L620.2 630.6 621.2 643.1 L622.2 653.8 623.2 658.0 L624.2 662.4 625.2 659.5 L626.2 651.2 627.2 643.1 L628.2 635.1 629.2 627.3 L630.2 619.9 631.2 613.2 L632.2 607.9 633.2 605.5 L634.2 607.1 635.2 612.0 L636.2 618.5 637.2 625.8 L638.2 633.5 639.2 641.5 L640.2 649.6 641.2 657.8 L642.2 663.8 643.2 661.9 L644.2 660.1 645.2 653.6 L646.2 643.5 647.2 633.6 L648.2 623.9 649.2 614.4 L650.2 605.3 651.2 597.1 L652.2 590.7 653.2 587.8 L654.2 589.8 655.2 595.7 L656.2 603.6 657.2 612.5 L658.2 621.9 659.2 631.7 L660.2 641.5 661.2 651.6 L662.2 661.6 663.2 671.8 L664.2 682.0 665.2 686.3 L666.2 686.3 667.2 686.3 L668.2 686.3 669.2 686.3 L670.2 686.3 671.2 686.3 L672.2 686.3 673.2 686.3 L674.2 686.3 675.2 686.3 L676.2 686.3 677.2 686.3 L678.2 686.3 679.2 686.3 L680.2 682.0 681.2 674.1 L682.2 666.3 683.2 658.4 L684.2 650.6 685.2 642.9 L686.2 635.2 687.2 627.7 L688.2 620.5 689.2 613.8 L690.2 608.0 691.2 604.2 L692.2 603.8 693.2 607.0 L694.2 612.5 695.2 619.1 L696.2 626.3 697.2 633.7 L698.2 641.3 699.2 649.0 L700.2 656.8 701.2 664.7 L702.2 672.6 703.2 671.7 L704.2 666.9 705.2 656.3 L706.2 645.8 707.2 635.4 L708.2 625.2 709.2 615.3 L710.2 605.9 711.2 597.4 L712.2 591.0 713.2 588.4 L714.2 591.0 715.2 597.4 L716.2 605.9 717.2 615.3 L718.2 625.2 719.2 635.4 L720.2 645.8 721.2 650.7 L722.2 652.2 723.2 653.7 L724.2 653.4 725.2 644.5 L726.2 635.7 727.2 627.2 L728.2 619.1 729.2 611.8 L730.2 606.3 731.2 604.1 L732.2 606.3 733.2 611.8 L734.2 619.1 735.2 627.2 L736.2 635.7 737.2 644.5 L738.2 653.4 739.2 662.4 L740.2 671.5 741.2 680.7 L742.2 686.3 743.2 686.3 L744.2 686.3 745.2 686.3 L746.2 686.3 747.2 686.3 L748.2 686.3 749.2 686.3 L750.2 686.3 751.2 686.3 L752.2 686.3 753.2 686.3 L754.2 686.3 755.2 686.3 L756.2 686.3 757.2 686.3 L758.2 686.3 759.2 686.3 L760.2 686.3 761.2 686.3 L762.2 686.3 763.2 686.3 L764.2 686.3 765.2 686.3 L766.2 686.3 767.2 686.3 L768.2 686.3 769.2 686.3 L770.2 686.3 771.2 686.3 L772.2 686.3 773.2 686.3 L774.2 686.3 775.2 686.3 L776.2 686.3 777.2 686.3 L778.2 686.3 779.2 686.3 L780.2 686.3 781.2 686.3 L782.2 686.3 783.2 686.3 L784.2 686.3 785.2 686.3 L786.2 686.3 787.2 686.3 L788.2 686.3 789.2 686.3 L790.2 686.3 791.2 686.3 L792.2 686.3 793.2 686.3 L794.2 686.3 795.2 686.3 L796.2 686.3 797.2 686.3 L798.2 686.3 799.2 686.3 L800.2 686.3 801.2 686.3 L802.2 686.3 803.2 686.3 L804.2 686.3 805.2 686.3 L806.2 686.3 807.2 686.3 L808.2 686.3 809.2 686.3 L810.2 686.3 811.2 686.3 L812.2 686.3 813.2 686.3 L814.2 686.3 815.2 686.3 L816.2 686.3 817.2 686.3 L818.2 686.3 819.2 686.3 L820.2 686.3 821.2 686.3 L822.2 686.3 823.2 686.3 L824.2 686.3 825.2 686.3 L826.2 686.3 827.2 686.3 L828.2 686.3 829.2 686.3 L830.2 686.3 831.2 686.3 L832.2 686.3 833.2 686.3 L834.2 686.3 835.2 686.3 L836.2 686.3 837.2 686.3 L838.2 686.3 839.2 686.3 L840.2 686.3 841.2 686.3 L842.2 686.3 843.2 686.3 L844.2 686.3 845.2 686.3 L846.2 686.3 847.2 686.3 L848.2 686.3 849.2 686.2 L850.2 686.2 851.2 686.1 L852.2 686.0 853.2 685.8 L854.2 685.6 855.2 685.3 L856.2 685.0 857.2 684.7 L858.2 684.5 859.2 684.3 L860.2 684.3 861.2 684.4 L862.2 684.6 863.2 684.8 L864.2 685.1 865.2 685.4 L866.2 685.7 867.2 685.9 L868.2 686.1 869.2 686.2 L870.2 686.2 871.2 685.5 L872.2 671.5 873.2 657.6 L874.2 643.8 875.2 630.0 L876.2 616.3 877.2 602.8 L878.2 589.4 879.2 576.5 L880.2 564.1 881.2 552.9 L882.2 544.2 883.2 540.2 L884.2 542.9 885.2 550.9 L886.2 561.8 887.2 573.9 L888.2 586.8 889.2 600.1 L890.2 613.6 891.2 627.2 L892.2 641.0 893.2 654.9 L894.2 668.8 895.2 682.7 L896.2 686.3 897.2 686.3 L898.2 686.3 899.2 686.3 L900.2 686.3 901.2 686.3 L902.2 686.3 903.2 686.3 L904.2 686.3 905.2 686.3 L906.2 686.3 907.2 686.3 L908.2 686.3 909.2 686.3 L910.2 686.3 911.2 686.3 L912.2 686.3 913.2 686.3 L914.2 686.3 915.2 686.3 L916.2 686.3 917.2 686.3 L918.2 686.3 919.2 686.3 L920.2 686.3 921.2 686.3 L922.2 686.3 923.2 686.3 L924.2 686.3 925.2 686.3 L926.2 686.3 927.2 686.3 L928.2 686.3 929.2 686.3 L930.2 686.3 931.2 684.2 L932.2 674.9 933.2 665.7 L934.2 656.5 935.2 647.4 L936.2 638.4 937.2 629.5 L938.2 620.8 939.2 612.4 L940.2 604.7 941.2 598.3 L942.2 594.5 943.2 594.9 L944.2 599.4 945.2 606.1 L946.2 614.0 947.2 622.5 L948.2 631.2 949.2 640.2 L950.2 649.2 951.2 658.4 L952.2 667.5 953.2 669.9 L954.2 669.6 955.2 660.4 L956.2 651.0 957.2 641.7 L958.2 632.5 959.2 623.5 L960.2 615.0 961.2 607.1 L962.2 600.6 963.2 597.1 L964.2 598.1 965.2 603.0 L966.2 610.1 967.2 618.3 L968.2 627.1 969.2 636.2 L970.2 645.4 971.2 652.8 L972.2 653.5 973.2 654.3 L974.2 655.2 975.2 649.7 L976.2 641.2 977.2 632.9 L978.2 624.8 979.2 617.2 L980.2 610.5 981.2 605.8 L982.2 604.5 983.2 607.4 L984.2 613.1 985.2 620.2 L986.2 628.0 987.2 636.2 L988.2 644.6 989.2 653.1 L990.2 661.7 991.2 670.4 L992.2 679.1 993.2 686.3 L994.2 686.3 995.2 686.3 L996.2 686.3 997.2 686.3 L998.2 686.3 999.2 686.3 L1000.2 686.3 1001.2 686.3 L1002.2 686.3 1003.2 686.3 L1004.2 686.3 1005.2 686.3 L1006.2 686.3 1007.2 686.3 L1008.2 686.3 1009.2 686.3 L1010.2 680.9 1011.2 668.4 L1012.2 655.9 1013.2 643.5 L1014.2 631.2 1015.2 619.0 L1016.2 607.0 1017.2 595.4 L1018.2 584.4 1019.2 574.7 L1020.2 567.5 1021.2 565.0 L1022.2 568.6 1023.2 576.5 L1024.2 586.6 1025.2 597.7 L1026.2 609.4 1027.2 621.4 L1028.2 633.6 1029.2 646.0 L1030.2 658.4 1031.2 670.9 L1032.2 683.4 1033.2 686.3 L1034.2 686.3 1035.2 686.3 L1036.2 686.3 1037.2 686.3 L1038.2 686.3 1039.2 686.3 L1040.2 686.3 1041.2 686.3 L1042.2 686.3 1043.2 686.3 L1044.2 686.3 1045.2 686.3 L1046.2 686.3 1047.2 686.3 L1048.2 686.3 1049.2 686.3 L1052.6 686.3 L1052.6 685.5" fill="rgba(0,0,0,0.13)" stroke="rgb(24,24,24)" stroke-width="2" stroke-linejoin="round"/>
<path d="M9.2 685.5 L9.2 685.5 L12.2 685.5 13.2 685.5 L14.2 685.5 15.2 685.5 L16.2 685.5 17.2 685.5 L18.2 685.5 19.2 685.5 L20.2 685.5 21.2 685.5 L22.2 685.5 23.2 685.5 L24.2 685.5 25.2 685.5 L26.2 685.5 27.2 685.5 L28.2 685.5 29.2 685.5 L30.2 685.5 31.2 685.5 L32.2 685.5 33.2 685.5 L34.2 685.5 35.2 685.5 L36.2 685.5 37.2 685.5 L38.2 685.5 39.2 685.5 L40.2 685.5 41.2 685.5 L42.2 685.5 43.2 685.5 L44.2 685.5 45.2 685.5 L46.2 685.5 47.2 685.5 L48.2 685.4 49.2 685.4 L50.2 685.3 51.2 685.1 L52.2 684.9 53.2 684.6 L54.2 684.2 55.2 683.8 L56.2 683.5 57.2 683.2 L58.2 683.0 59.2 683.0 L60.2 683.1 61.2 683.4 L62.2 683.8 63.2 684.1 L64.2 684.5 65.2 684.8 L66.2 685.0 67.2 685.2 L68.2 685.3 69.2 685.4 L70.2 685.5 71.2 685.5 L72.2 685.5 73.2 685.5 L74.2 685.5 75.2 685.5 L76.2 685.5 77.2 685.5 L78.2 685.5 79.2 685.5 L80.2 685.5 81.2 685.5 L82.2 685.5 83.2 685.4 L84.2 685.4 85.2 685.3 L86.2 685.1 87.2 684.9 L88.2 684.6 89.2 684.3 L90.2 683.9 91.2 683.5 L92.2 683.2 93.2 683.0 L94.2 683.0 95.2 683.1 L96.2 683.4 97.2 683.7 L98.2 684.1 99.2 684.4 L100.2 684.7 101.2 685.0 L102.2 685.2 103.2 685.3 L104.2 685.3 105.2 685.3 L106.2 685.3 107.2 685.1 L108.2 684.9 109.2 684.6 L110.2 684.3 111.2 683.9 L112.2 683.5 113.2 683.2 L114.2 683.0 115.2 683.0 L116.2 683.1 117.2 683.4 L118.2 683.7 119.2 684.1 L120.2 684.4 121.2 684.7 L122.2 685.0 123.2 685.2 L124.2 685.3 125.2 685.4 L126.2 685.5 127.2 685.5 L128.2 685.5 129.2 685.5 L130.2 685.5 131.2 685.5 L132.2 685.5 133.2 685.5 L134.2 685.5 135.2 685.5 L136.2 685.5 137.2 685.5 L138.2 685.5 139.2 685.5 L140.2 685.5 141.2 685.4 L142.2 685.3 143.2 685.2 L144.2 685.0 145.2 684.8 L146.2 684.5 147.2 684.1 L148.2 683.8 149.2 683.4 L150.2 683.1 151.2 683.0 L152.2 683.0 153.2 683.2 L154.2 683.5 155.2 683.8 L156.2 684.2 157.2 684.6 L158.2 684.9 159.2 685.1 L160.2 685.3 161.2 685.4 L162.2 685.4 163.2 685.5 L164.2 685.5 165.2 685.5 L166.2 685.5 167.2 685.5 L168.2 685.5 169.2 685.5 L170.2 685.5 171.2 685.5 L172.2 685.5 173.2 685.5 L174.2 685.5 175.2 685.5 L176.2 685.5 177.2 685.5 L178.2 685.5 179.2 685.5 L180.2 685.5 181.2 685.5 L182.2 685.5 183.2 685.5 L184.2 685.5 185.2 685.5 L186.2 685.5 187.2 685.5 L188.2 685.5 189.2 685.5 L190.2 685.5 191.2 685.5 L192.2 685.5 193.2 685.5 L194.2 685.5 195.2 685.5 L196.2 685.5 197.2 685.5 L198.2 685.5 199.2 685.4 L200.2 685.4 201.2 685.3 L202.2 685.1 203.2 684.9 L204.2 684.6 205.2 684.3 L206.2 683.9 207.2 683.5 L208.2 683.2 209.2 683.0 L210.2 683.0 211.2 683.1 L212.2 683.4 213.2 683.7 L214.2 684.1 215.2 684.4 L216.2 684.7 217.2 685.0 L218.2 685.2 219.2 685.3 L220.2 685.4 221.2 685.5 L222.2 685.5 223.2 685.5 L224.2 685.5 225.2 685.5 L226.2 685.5 227.2 685.5 L228.2 685.5 229.2 685.5 L230.2 685.5 231.2 685.5 L232.2 685.5 233.2 685.5 L234.2 685.5 235.2 685.5 L236.2 685.5 237.2 685.4 L238.2 685.4 239.2 685.3 L240.2 685.1 241.2 684.9 L242.2 684.6 243.2 684.3 L244.2 683.9 245.2 683.5 L246.2 683.2 247.2 683.0 L248.2 683.0 249.2 683.1 L250.2 683.4 251.2 683.7 L252.2 684.1 253.2 684.4 L254.2 684.7 255.2 685.0 L256.2 685.2 257.2 685.3 L258.2 685.4 259.2 685.5 L260.2 685.5 261.2 685.5 L262.2 685.5 263.2 685.5 L264.2 685.5 265.2 685.5 L266.2 685.5 267.2 685.5 L268.2 685.5 269.2 685.5 L270.2 685.5 271.2 685.5 L272.2 685.5 273.2 685.5 L274.2 685.5 275.2 685.5 L276.2 685.5 277.2 685.5 L278.2 685.5 279.2 685.5 L280.2 674.6 281.2 663.2 L282.2 651.9 283.2 640.6 L284.2 629.5 285.2 618.6 L286.2 608.0 287.2 598.1 L288.2 589.4 289.2 583.1 L290.2 581.4 291.2 585.2 L292.2 592.6 293.2 602.0 L294.2 612.2 295.2 622.9 L296.2 633.9 297.2 645.1 L298.2 656.4 299.2 667.7 L300.2 679.2 301.2 685.5 L302.2 685.5 303.2 685.5 L304.2 685.5 305.2 685.5 L306.2 685.5 307.2 685.5 L308.2 685.5 309.2 685.5 L310.2 685.5 311.2 685.5 L312.2 685.5 313.2 685.5 L314.2 685.5 315.2 685.5 L316.2 685.5 317.2 685.5 L318.2 685.5 319.2 685.5 L320.2 685.5 321.2 685.5 L322.2 685.5 323.2 685.5 L324.2 685.5 325.2 685.5 L326.2 685.5 327.2 685.5 L328.2 685.5 329.2 685.5 L330.2 685.5 331.2 685.5 L332.2 685.5 333.2 685.5 L334.2 685.5 335.2 685.5 L336.2 685.5 337.2 685.5 L338.2 685.5 339.2 685.5 L340.2 685.5 341.2 685.5 L342.2 685.5 343.2 685.5 L344.2 685.5 345.2 685.5 L346.2 685.5 347.2 685.5 L348.2 685.5 349.2 685.5 L350.2 685.5 351.2 685.5 L352.2 685.5 353.2 685.5 L354.2 685.5 355.2 685.5 L356.2 685.5 357.2 685.5 L358.2 685.5 359.2 685.5 L360.2 685.5 361.2 685.5 L362.2 685.5 363.2 685.5 L364.2 685.5 365.2 685.5 L366.2 685.5 367.2 685.5 L368.2 685.5 369.2 685.5 L370.2 685.5 371.2 685.5 L372.2 685.5 373.2 685.5 L374.2 685.5 375.2 685.5 L376.2 685.5 377.2 685.5 L378.2 685.5 379.2 685.5 L380.2 685.5 381.2 685.5 L382.2 685.5 383.2 685.5 L384.2 685.5 385.2 685.5 L386.2 685.5 387.2 685.5 L388.2 685.5 389.2 685.5 L390.2 685.5 391.2 685.5 L392.2 685.5 393.2 677.4 L394.2 665.9 395.2 654.5 L396.2 643.1 397.2 631.8 L398.2 620.8 399.2 610.0 L400.2 599.8 401.2 590.5 L402.2 583.2 403.2 579.9 L404.2 582.2 405.2 588.8 L406.2 597.8 407.2 607.9 L408.2 618.6 409.2 629.4 L410.2 640.1 411.2 650.9 L412.2 661.7 413.2 672.6 L414.2 682.6 415.2 682.5 L416.2 682.5 417.2 682.4 L418.2 682.3 419.2 682.1 L420.2 681.9 421.2 681.8 L422.2 681.6 423.2 681.4 L424.2 681.2 425.2 681.0 L426.2 680.8 427.2 680.7 L428.2 680.6 429.2 680.5 L430.2 680.5 431.2 680.5 L432.2 680.4 433.2 680.4 L434.2 680.3 435.2 680.2 L436.2 680.1 437.2 680.0 L438.2 679.9 439.2 679.8 L440.2 679.7 441.2 679.7 L442.2 679.6 443.2 679.5 L444.2 679.5 445.2 679.5 L446.2 679.5 447.2 679.4 L448.2 679.3 449.2 679.2 L450.2 679.1 451.2 679.0 L452.2 678.9 453.2 678.7 L454.2 678.6 455.2 678.6 L456.2 678.5 457.2 678.5 L458.2 678.6 459.2 678.7 L460.2 679.0 461.2 679.2 L462.2 679.6 463.2 679.9 L464.2 680.2 465.2 680.6 L466.2 680.9 467.2 681.1 L468.2 681.3 469.2 681.5 L470.2 681.5 471.2 681.5 L472.2 681.6 473.2 681.6 L474.2 681.7 475.2 681.8 L476.2 681.9 477.2 682.0 L478.2 682.1 479.2 682.2 L480.2 682.3 481.2 682.3 L482.2 682.4 483.2 682.5 L484.2 682.5 485.2 682.5 L486.2 682.6 487.2 682.7 L488.2 682.9 489.2 683.1 L490.2 683.3 491.2 683.6 L492.2 683.9 493.2 684.2 L494.2 684.5 495.2 684.8 L496.2 685.0 497.2 685.2 L498.2 685.4 499.2 685.5 L500.2 685.5 501.2 685.5 L502.2 685.5 503.2 685.5 L504.2 685.5 505.2 685.5 L506.2 685.5 507.2 685.5 L508.2 685.5 509.2 685.5 L510.2 685.5 511.2 685.5 L512.2 685.5 513.2 685.5 L514.2 685.5 515.2 685.5 L516.2 685.5 517.2 685.5 L518.2 685.5 519.2 685.5 L520.2 685.5 521.2 685.5 L522.2 685.5 523.2 685.5 L524.2 685.5 525.2 685.5 L526.2 685.5 527.2 675.1 L528.2 663.6 529.2 652.2 L530.2 640.8 531.2 629.6 L532.2 618.6 533.2 607.9 L534.2 597.8 535.2 588.8 L536.2 582.2 537.2 579.9 L538.2 583.2 539.2 590.5 L540.2 599.8 541.2 610.0 L542.2 620.8 543.2 631.8 L544.2 643.1 545.2 654.5 L546.2 662.9 547.2 671.4 L548.2 676.5 549.2 673.5 L550.2 670.6 551.2 667.8 L552.2 665.2 553.2 662.9 L554.2 661.5 555.2 661.3 L556.2 662.6 557.2 664.7 L558.2 667.3 559.2 670.0 L560.2 672.9 561.2 675.9 L562.2 678.9 563.2 678.0 L564.2 669.3 565.2 658.2 L566.2 646.6 567.2 635.0 L568.2 623.6 569.2 612.4 L570.2 601.5 571.2 591.1 L572.2 581.8 573.2 574.7 L574.2 571.9 575.2 574.7 L576.2 581.8 577.2 591.1 L578.2 601.5 579.2 612.4 L580.2 623.6 581.2 635.0 L582.2 646.6 583.2 649.7 L584.2 652.2 585.2 654.7 L586.2 649.5 587.2 640.4 L588.2 631.5 589.2 622.8 L590.2 614.5 591.2 606.8 L592.2 600.3 593.2 596.6 L594.2 597.0 595.2 601.5 L596.2 608.2 597.2 616.1 L598.2 624.6 599.2 633.3 L600.2 642.2 601.2 651.3 L602.2 660.4 603.2 669.6 L604.2 678.8 605.2 685.5 L606.2 685.5 607.2 685.5 L608.2 685.5 609.2 685.5 L610.2 685.5 611.2 685.5 L612.2 685.5 613.2 685.5 L614.2 685.5 615.2 685.5 L616.2 685.5 617.2 685.5 L618.2 685.5 619.2 685.5 L620.2 685.5 621.2 685.5 L622.2 685.5 623.2 685.5 L624.2 685.5 625.2 685.5 L626.2 685.5 627.2 685.5 L628.2 685.5 629.2 685.5 L630.2 685.5 631.2 685.5 L632.2 685.5 633.2 685.5 L634.2 685.5 635.2 685.5 L636.2 685.5 637.2 685.5 L638.2 685.5 639.2 685.5 L640.2 685.5 641.2 685.5 L642.2 685.5 643.2 685.5 L644.2 685.5 645.2 685.5 L646.2 685.5 647.2 685.5 L648.2 685.5 649.2 685.5 L650.2 685.5 651.2 685.5 L652.2 685.5 653.2 685.5 L654.2 685.5 655.2 685.5 L656.2 685.5 657.2 685.5 L658.2 685.5 659.2 685.5 L660.2 685.5 661.2 685.4 L662.2 685.4 663.2 685.2 L664.2 685.1 665.2 684.8 L666.2 684.5 667.2 684.0 L668.2 683.6 669.2 683.2 L670.2 682.8 671.2 682.6 L672.2 682.5 673.2 682.6 L674.2 682.9 675.2 683.3 L676.2 683.8 677.2 684.2 L678.2 684.6 679.2 684.9 L680.2 685.1 681.2 685.3 L682.2 685.4 683.2 685.4 L684.2 685.5 685.2 685.5 L686.2 685.5 687.2 685.5 L688.2 685.5 689.2 685.5 L690.2 685.5 691.2 685.5 L692.2 685.5 693.2 685.5 L694.2 685.5 695.2 685.5 L696.2 685.5 697.2 685.5 L698.2 685.5 699.2 685.5 L700.2 685.5 701.2 685.5 L702.2 685.5 703.2 685.5 L704.2 685.5 705.2 685.5 L706.2 685.5 707.2 685.5 L708.2 685.5 709.2 685.5 L710.2 685.5 711.2 685.5 L712.2 685.5 713.2 685.5 L714.2 685.5 715.2 685.5 L716.2 685.5 717.2 685.5 L718.2 685.5 719.2 685.5 L720.2 685.5 721.2 685.5 L722.2 685.5 723.2 685.5 L724.2 685.5 725.2 685.5 L726.2 685.5 727.2 685.5 L728.2 685.5 729.2 685.5 L730.2 685.5 731.2 685.5 L732.2 685.5 733.2 685.5 L734.2 685.5 735.2 685.5 L736.2 685.5 737.2 685.5 L738.2 685.5 739.2 685.5 L740.2 685.5 741.2 685.5 L742.2 685.5 743.2 685.5 L744.2 685.5 745.2 685.5 L746.2 685.5 747.2 685.5 L748.2 685.5 749.2 685.4 L750.2 685.4 751.2 685.2 L752.2 685.1 753.2 684.8 L754.2 684.5 755.2 684.0 L756.2 683.6 757.2 683.2 L758.2 682.8 759.2 682.6 L760.2 682.5 761.2 682.6 L762.2 682.9 763.2 683.3 L764.2 683.8 765.2 684.2 L766.2 684.6 767.2 684.9 L768.2 685.1 769.2 685.3 L770.2 685.4 771.2 685.4 L772.2 685.5 773.2 685.5 L774.2 685.5 775.2 685.5 L776.2 685.5 777.2 685.5 L778.2 685.5 779.2 685.5 L780.2 685.5 781.2 685.5 L782.2 685.5 783.2 685.5 L784.2 685.5 785.2 685.5 L786.2 685.5 787.2 685.5 L788.2 685.5 789.2 685.5 L790.2 685.5 791.2 685.5 L792.2 685.5 793.2 685.5 L794.2 685.5 795.2 685.5 L796.2 685.5 797.2 685.5 L798.2 685.5 799.2 685.5 L800.2 685.5 801.2 685.5 L802.2 685.5 803.2 685.5 L804.2 685.5 805.2 685.5 L806.2 685.5 807.2 685.5 L808.2 685.5 809.2 685.5 L810.2 685.5 811.2 685.5 L812.2 685.5 813.2 685.5 L814.2 685.5 815.2 685.5 L816.2 685.5 817.2 685.5 L818.2 685.5 819.2 685.5 L820.2 685.5 821.2 685.5 L822.2 685.5 823.2 685.5 L824.2 685.5 825.2 685.5 L826.2 685.5 827.2 685.5 L828.2 685.5 829.2 685.5 L830.2 685.5 831.2 685.5 L832.2 685.5 833.2 685.5 L834.2 685.5 835.2 685.5 L836.2 685.5 837.2 685.4 L838.2 685.4 839.2 685.2 L840.2 685.1 841.2 684.8 L842.2 684.5 843.2 684.0 L844.2 683.6 845.2 683.2 L846.2 682.8 847.2 682.6 L848.2 682.5 849.2 682.6 L850.2 682.9 851.2 683.3 L852.2 683.8 853.2 684.2 L854.2 678.0 855.2 667.2 L856.2 656.4 857.2 645.7 L858.2 634.9 859.2 624.4 L860.2 614.1 861.2 604.3 L862.2 595.5 863.2 588.8 L864.2 586.1 865.2 588.8 L866.2 595.5 867.2 604.3 L868.2 614.1 869.2 624.4 L870.2 635.1 871.2 645.9 L872.2 656.8 873.2 667.8 L874.2 678.9 875.2 685.5 L876.2 685.5 877.2 685.5 L878.2 685.5 879.2 685.5 L880.2 685.5 881.2 685.5 L882.2 685.5 883.2 685.5 L884.2 685.5 885.2 685.5 L886.2 685.5 887.2 685.5 L888.2 685.5 889.2 685.5 L890.2 685.5 891.2 685.5 L892.2 685.5 893.2 685.5 L894.2 685.5 895.2 685.5 L896.2 685.5 897.2 685.5 L898.2 685.5 899.2 685.5 L900.2 685.5 901.2 685.4 L902.2 685.4 903.2 685.2 L904.2 685.1 905.2 684.8 L906.2 684.5 907.2 684.0 L908.2 683.6 909.2 683.2 L910.2 682.8 911.2 682.6 L912.2 682.5 913.2 682.6 L914.2 675.2 915.2 664.6 L916.2 654.0 917.2 643.5 L918.2 633.1 919.2 622.8 L920.2 612.7 921.2 603.2 L922.2 594.6 923.2 588.3 L924.2 586.1 925.2 589.3 L926.2 596.3 927.2 605.2 L928.2 615.1 929.2 625.5 L930.2 636.1 931.2 647.0 L932.2 657.9 933.2 668.9 L934.2 680.0 935.2 685.5 L936.2 685.5 937.2 685.5 L938.2 685.5 939.2 685.5 L940.2 685.5 941.2 685.5 L942.2 685.5 943.2 685.5 L944.2 685.5 945.2 685.5 L946.2 685.5 947.2 685.5 L948.2 685.5 949.2 685.5 L950.2 685.5 951.2 685.5 L952.2 685.5 953.2 685.5 L954.2 685.5 955.2 685.5 L956.2 685.5 957.2 685.5 L958.2 685.5 959.2 685.5 L960.2 685.5 961.2 685.5 L962.2 685.5 963.2 685.5 L964.2 685.5 965.2 685.5 L966.2 685.5 967.2 685.5 L968.2 685.5 969.2 685.5 L970.2 685.5 971.2 685.5 L972.2 685.5 973.2 685.5 L974.2 685.5 975.2 685.5 L976.2 685.5 977.2 685.5 L978.2 685.5 979.2 685.5 L980.2 685.5 981.2 685.5 L982.2 685.5 983.2 685.5 L984.2 685.5 985.2 685.5 L986.2 685.5 987.2 685.5 L988.2 685.5 989.2 685.5 L990.2 685.5 991.2 685.5 L992.2 685.5 993.2 676.3 L994.2 666.1 995.2 656.0 L996.2 646.0 997.2 636.1 L998.2 626.5 999.2 617.2 L1000.2 608.7 1001.2 601.8 L1002.2 598.0 1003.2 599.0 L1004.2 604.3 1005.2 612.0 L1006.2 620.8 1007.2 630.3 L1008.2 640.0 1009.2 650.0 L1010.2 660.0 1011.2 670.2 L1012.2 680.4 1013.2 685.5 L1014.2 685.5 1015.2 685.5 L1016.2 685.5 1017.2 685.5 L1018.2 685.5 1019.2 685.4 L1020.2 685.4 1021.2 685.2 L1022.2 685.1 1023.2 684.8 L1024.2 684.5 1025.2 684.0 L1026.2 683.6 1027.2 683.2 L1028.2 682.8 1029.2 682.6 L1030.2 682.5 1031.2 682.6 L1032.2 682.9 1033.2 683.3 L1034.2 683.8 1035.2 684.2 L1036.2 684.6 1037.2 684.9 L1038.2 685.1 1039.2 685.3 L1040.2 685.4 1041.2 685.4 L1042.2 685.5 1043.2 685.5 L1044.2 685.5 1045.2 685.5 L1046.2 685.5 1047.2 685.5 L1048.2 685.5 1049.2 685.5 L1052.6 685.5 L1052.6 685.5" fill="rgba(235,90,90,0.15)" stroke="rgb(232,88,88)" stroke-width="2" stroke-linejoin="round"/>
</g>
<rect x="677.5" y="117.5" width="21" height="571" fill="rgba(248,248,248,0.35)" stroke="#999" stroke-width="1"/>
</svg>
</body></html>
